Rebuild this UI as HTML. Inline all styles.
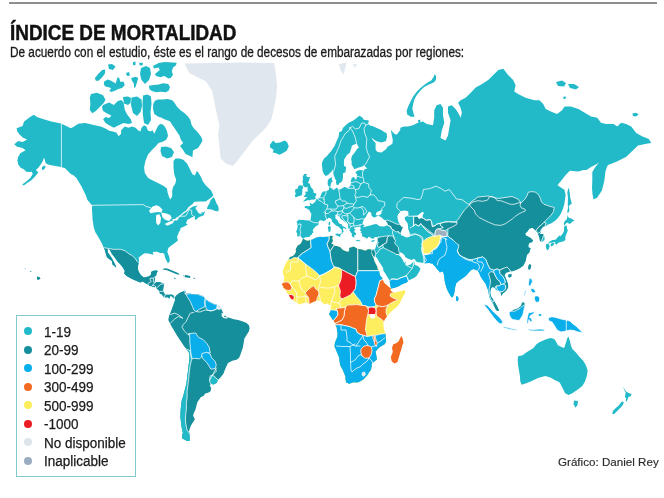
<!DOCTYPE html>
<html><head><meta charset="utf-8"><style>
html,body{margin:0;padding:0;background:#fff;}
.title,.sub,.lt,.credit{filter:grayscale(1);}
body{width:664px;height:498px;position:relative;overflow:hidden;font-family:"Liberation Sans",sans-serif;}
.topline{position:absolute;left:9px;top:2.2px;width:648px;height:1.6px;background:#8f8f8f;}
.title{position:absolute;left:9.9px;top:22.0px;font-size:22px;line-height:1;font-weight:bold;color:#111;-webkit-text-stroke:0.5px #111;transform-origin:0 0;transform:scaleX(0.859);white-space:nowrap;}
.sub{position:absolute;left:9.5px;top:45.3px;font-size:14px;line-height:1;color:#1a1a1a;-webkit-text-stroke:0.3px #1a1a1a;transform-origin:0 0;transform:scaleX(0.842);white-space:nowrap;}
svg{position:absolute;left:0;top:0;}
.legend{position:absolute;left:16.1px;top:315.1px;width:117.8px;height:159.7px;border:1.6px solid #80c9ce;background:#fff;}
.dot{position:absolute;width:8px;height:8px;border-radius:50%;}
.lt{position:absolute;font-size:14px;line-height:1;color:#1a1a1a;-webkit-text-stroke:0.25px #1a1a1a;white-space:nowrap;transform-origin:0 0;transform:scaleX(0.965);}
.credit{position:absolute;left:558.3px;top:456.5px;font-size:11.5px;line-height:1;color:#2b2b2b;-webkit-text-stroke:0.15px #2b2b2b;white-space:nowrap;transform-origin:0 0;transform:scaleX(1.01);}
</style></head><body>
<div class="topline"></div>
<div class="title">ÍNDICE DE MORTALIDAD</div>
<div class="sub">De acuerdo con el estudio, éste es el rango de decesos de embarazadas por regiones:</div>
<svg width="664" height="498" viewBox="0 0 664 498">
<defs>
<clipPath id="cNA"><polygon points="33.9,114.8 36.9,117.0 43.7,119.3 51.2,121.6 58.7,123.1 61.4,123.8 66.3,126.1 70.8,128.3 73.8,126.8 78.3,123.8 85.0,122.9 89.8,124.1 94.6,125.3 100.7,126.6 105.5,128.4 109.1,130.8 112.7,131.4 116.3,132.6 118.7,136.2 121.1,133.8 121.1,130.2 124.8,126.6 128.4,127.8 132.0,126.6 135.6,127.8 138.0,130.2 140.4,131.4 141.6,127.8 144.0,125.3 146.4,126.6 147.7,130.2 150.1,131.4 152.5,130.2 154.3,133.8 156.0,130.0 158.0,126.0 160.0,124.0 163.0,124.5 165.0,127.0 167.0,131.0 168.0,136.0 166.0,140.0 162.0,142.0 158.5,143.0 156.0,146.0 152.0,150.0 148.0,154.6 145.4,161.1 144.1,167.6 144.8,172.9 148.1,178.1 153.3,180.7 158.5,183.3 163.7,185.9 167.0,188.5 167.6,192.4 168.9,196.4 170.2,199.5 172.2,196.4 172.2,191.1 172.9,187.2 175.5,183.3 176.1,179.4 174.2,174.2 173.5,167.6 173.5,161.1 175.5,158.5 179.4,158.5 183.3,159.8 187.2,163.7 189.8,168.9 192.4,174.2 195.0,175.5 196.7,171.0 198.4,172.7 201.0,177.0 202.6,181.0 205.3,184.7 208.0,187.5 211.1,190.5 213.4,195.3 211.4,197.5 210.9,197.8 205.7,201.4 200.0,201.5 194.2,201.7 192.6,204.0 188.3,207.3 185.6,211.2 184.8,212.3 186.5,211.8 189.5,208.7 193.0,206.4 197.8,205.6 195.3,208.0 197.1,210.7 198.5,212.9 201.2,214.3 204.9,210.9 205.0,210.9 203.9,215.3 199.2,217.1 195.5,220.2 194.6,217.5 194.9,215.6 193.1,216.7 190.8,218.0 187.4,219.8 186.0,223.2 187.8,224.8 186.0,225.4 184.2,226.6 180.6,227.9 180.1,230.4 179.0,231.8 178.3,234.1 177.0,236.7 177.9,240.6 176.1,242.1 173.5,243.9 170.0,246.4 168.3,248.1 167.3,251.9 168.9,256.0 169.7,259.1 169.6,261.7 167.9,263.2 166.3,260.2 165.0,257.4 164.5,254.5 162.7,252.8 160.9,253.2 156.9,251.7 155.5,251.7 152.8,252.1 153.4,254.8 148.3,253.5 144.9,253.2 143.3,254.1 138.7,257.4 139.1,261.3 138.1,265.5 137.9,269.1 138.7,271.8 141.0,275.3 142.6,276.6 144.0,277.5 146.2,277.0 148.7,276.5 150.7,275.0 151.0,274.0 151.2,272.0 152.5,271.1 155.0,270.6 157.1,270.4 157.7,271.4 156.5,273.3 156.4,275.1 155.0,276.8 155.1,278.8 154.8,280.8 154.4,282.4 156.4,282.1 157.7,282.2 159.1,282.0 164.2,283.8 163.7,285.7 163.1,289.7 163.2,291.8 164.4,293.6 165.8,294.8 170.0,294.8 171.6,294.4 174.7,296.3 174.0,298.4 173.6,299.0 172.9,297.4 170.7,295.6 169.1,298.8 168.0,297.2 164.6,297.4 163.4,296.5 161.2,293.8 160.3,294.0 159.3,292.0 159.3,291.1 156.9,288.7 156.2,287.3 155.9,287.1 154.6,287.3 152.2,286.5 150.1,285.9 148.0,284.7 142.6,281.4 140.3,282.4 134.2,280.1 130.1,277.9 126.3,275.7 123.8,272.9 124.6,272.5 124.7,270.7 122.5,267.1 119.8,263.8 117.9,262.1 114.5,257.2 111.8,253.7 109.8,249.7 107.5,248.6 107.8,252.6 111.1,256.9 112.0,258.5 115.5,265.2 116.3,267.8 112.3,264.2 112.0,261.2 106.9,257.3 105.7,253.0 104.3,248.4 103.4,247.0 101.8,243.3 98.0,236.5 95.2,232.0 93.8,227.6 92.6,220.1 92.2,213.0 91.9,208.7 92.2,205.5 90.4,203.5 87.3,199.7 85.8,195.2 83.6,190.7 81.3,186.1 79.1,182.4 76.8,178.6 73.8,175.6 70.8,174.1 67.8,171.1 64.8,168.1 61.7,167.3 58.7,166.6 55.2,166.1 51.2,165.3 48.0,164.5 45.5,162.9 44.5,158.5 43.9,158.0 42.7,161.3 40.7,164.5 38.3,167.7 35.9,170.1 38.3,172.5 35.1,176.5 31.1,180.5 27.1,183.0 23.8,185.4 22.2,184.6 26.3,181.4 30.3,178.1 32.7,174.1 31.9,171.7 29.5,172.1 26.3,171.7 23.8,169.3 20.6,167.7 18.2,164.5 17.4,160.5 18.1,157.0 20.3,153.2 25.6,150.2 22.6,147.9 16.6,146.4 14.3,144.2 18.1,141.1 22.6,141.9 27.1,139.6 22.6,137.4 19.6,134.4 17.3,131.4 16.6,128.3 22.6,126.1 24.1,121.6 30.1,117.0"/></clipPath>
<clipPath id="cSA"><polygon points="174.3,298.1 176.6,295.0 179.6,292.8 183.3,291.3 184.8,290.5 186.4,293.6 189.4,293.6 193.1,294.3 197.7,294.3 200.7,295.1 203.7,296.6 205.2,298.8 208.2,301.1 211.2,302.6 214.2,304.1 217.2,304.8 218.7,305.6 221.0,308.6 222.5,311.6 224.0,315.4 226.3,316.9 229.3,317.7 233.8,319.2 238.3,319.9 242.8,321.4 246.6,322.9 248.9,325.2 249.6,328.2 248.9,331.2 246.6,335.0 244.3,338.7 243.6,343.3 242.8,347.8 241.5,351.5 240.3,355.0 239.0,358.0 236.5,359.7 232.3,360.8 228.0,363.0 226.3,366.4 224.8,370.1 223.3,373.9 220.2,377.7 218.0,379.9 216.5,382.9 213.5,384.4 211.2,383.7 209.7,385.2 211.2,388.2 210.5,391.2 208.2,392.7 205.2,393.5 203.7,395.7 200.7,397.2 199.2,399.5 197.5,402.0 196.7,404.8 195.5,409.6 193.7,413.3 193.1,415.7 194.9,419.3 192.5,422.9 190.7,425.9 189.5,429.5 188.9,431.9 190.1,433.7 189.5,441.0 187.1,441.0 182.3,438.6 182.3,434.9 182.9,432.5 181.7,427.7 181.1,422.9 180.5,418.0 180.5,412.0 181.0,406.0 181.8,400.0 183.3,395.7 184.8,389.7 186.4,383.7 187.1,377.7 187.9,371.6 188.6,365.6 189.4,359.6 189.4,353.6 187.1,350.0 184.1,346.3 181.1,341.7 178.1,337.2 175.8,333.5 173.6,329.7 171.3,325.9 169.8,322.9 168.3,319.9 169.0,316.1 170.5,312.4 172.0,308.6 173.6,304.1 175.1,299.6"/></clipPath>
<clipPath id="cEU"><polygon points="325.8,175.9 324.0,174.2 323.2,172.4 322.6,170.7 322.2,166.9 321.8,164.5 322.2,162.1 324.0,158.6 325.6,157.2 327.0,155.9 329.0,153.4 331.1,151.2 332.9,148.5 334.9,145.6 335.8,143.0 338.6,136.8 339.2,132.2 341.9,131.1 342.8,128.0 346.5,124.5 349.0,122.5 352.6,121.1 355.7,118.8 359.4,115.8 362.5,117.4 363.7,119.7 368.9,120.4 368.0,124.0 370.5,125.8 372.3,126.1 376.8,128.0 381.3,130.1 384.5,132.2 386.6,132.9 387.0,136.7 386.0,141.1 381.3,142.5 375.9,141.1 371.3,137.5 373.2,140.6 375.6,143.0 375.6,149.6 377.4,152.1 381.5,152.5 384.9,149.9 385.8,149.6 387.6,146.7 392.4,143.7 392.8,140.1 391.7,134.7 390.8,129.8 394.2,133.7 396.7,134.7 400.3,130.0 400.3,127.8 404.1,126.6 407.8,126.6 412.9,125.3 417.9,122.8 422.9,121.6 426.7,124.1 433.0,125.3 434.2,117.8 434.2,110.3 436.7,105.2 440.5,104.0 443.0,107.7 443.0,115.3 444.3,122.8 441.8,130.4 440.5,137.9 445.5,140.4 448.0,135.4 449.3,127.8 450.6,120.3 448.0,112.8 448.0,106.5 451.8,105.2 455.6,109.0 458.1,112.8 460.6,117.8 461.9,112.8 460.6,107.7 458.1,102.7 460.6,100.2 465.6,97.7 470.7,92.7 475.7,87.6 482.0,83.9 488.2,80.1 493.3,75.1 498.3,70.1 503.3,68.8 508.1,75.1 513.1,80.1 515.6,85.1 514.3,91.4 518.1,93.9 525.6,97.7 534.4,100.2 539.5,100.2 543.2,104.0 545.7,109.0 550.8,111.5 557.0,114.0 562.1,110.3 564.6,106.5 570.9,106.5 578.4,109.0 584.7,112.8 591.0,116.5 597.2,117.8 601.0,122.8 606.0,124.1 613.6,124.1 617.3,126.6 621.1,122.8 626.1,124.1 631.2,126.6 636.2,132.9 642.5,136.6 648.8,139.1 651.3,142.9 647.7,143.5 638.0,145.5 633.3,150.0 626.0,157.0 616.4,161.7 608.0,165.0 606.5,168.0 605.5,171.3 604.3,181.0 601.9,190.6 597.1,197.8 593.5,199.5 592.5,194.0 592.0,188.0 592.3,181.0 592.3,172.0 595.0,167.5 599.0,162.5 603.0,158.3 600.5,161.5 596.0,164.5 591.0,167.0 586.5,170.0 583.4,170.1 578.4,171.4 569.8,170.8 565.0,175.8 560.8,181.3 557.5,185.0 560.8,187.4 564.4,189.8 565.6,194.6 565.0,199.5 564.1,205.0 562.1,211.0 560.1,215.0 557.1,219.0 554.1,221.5 551.0,223.6 548.0,224.6 546.0,226.1 543.0,226.8 541.5,229.0 540.5,232.0 540.0,234.1 543.0,234.1 544.5,237.1 544.5,240.1 542.0,242.1 540.0,241.1 539.5,238.1 538.5,235.0 537.5,232.5 535.5,230.2 532.5,227.8 529.5,228.4 527.0,232.0 525.2,233.2 525.8,235.6 528.3,236.8 530.7,238.0 533.1,240.4 531.9,242.2 529.5,242.8 528.3,245.0 528.5,247.6 530.6,248.0 529.3,252.6 526.8,255.0 525.6,261.0 523.2,265.8 519.6,268.3 516.0,270.1 512.3,271.3 508.7,271.9 506.3,272.5 505.7,273.1 504.5,275.5 505.7,277.9 506.9,280.9 508.1,284.5 508.1,287.5 506.3,290.5 504.5,292.3 502.7,293.6 501.5,296.0 500.9,293.6 500.3,291.7 498.5,291.1 496.1,289.9 494.3,287.5 492.5,286.9 490.7,288.7 490.1,292.3 490.7,296.0 492.5,298.4 494.3,301.4 496.1,304.4 497.9,308.0 499.1,310.4 497.3,311.0 495.5,309.2 493.7,305.6 491.9,302.6 490.1,299.0 488.9,294.8 488.3,290.5 487.0,287.5 485.8,283.9 484.0,281.5 482.2,279.1 480.4,276.1 479.2,273.1 477.8,270.7 476.0,270.1 473.6,268.9 471.2,270.1 468.8,272.5 465.8,276.1 462.2,278.6 458.6,281.0 456.1,283.4 454.9,288.2 454.3,293.0 453.1,296.6 451.9,297.6 450.7,296.0 448.9,293.0 447.1,289.4 445.9,285.8 444.7,281.0 444.1,276.1 443.5,273.1 442.3,271.3 439.9,272.5 438.7,270.7 436.9,268.9 435.7,267.1 433.3,264.7 433.1,263.7 429.0,262.9 424.8,263.2 421.8,262.7 416.8,262.0 414.1,258.8 411.6,260.1 408.2,258.7 405.5,257.3 404.3,254.9 401.9,252.8 400.3,252.7 399.1,253.9 400.1,256.1 402.2,259.1 403.0,260.3 403.9,262.5 404.6,263.4 405.0,260.9 405.7,262.7 405.3,264.2 407.3,265.5 410.7,264.5 412.3,262.8 413.5,261.7 414.3,260.4 414.2,262.3 414.9,264.7 418.2,266.3 420.4,268.6 419.6,270.9 418.6,272.7 416.8,275.8 414.4,277.8 410.1,279.8 408.4,280.6 406.7,282.6 403.7,283.4 401.2,284.7 399.2,285.9 396.9,286.9 393.8,288.1 391.1,288.4 390.7,287.1 390.2,284.2 389.4,280.0 387.7,277.4 385.3,273.4 383.4,270.7 383.1,268.0 381.4,265.3 380.0,263.3 378.5,260.7 377.2,258.3 375.6,256.7 375.9,253.7 375.0,255.9 374.6,257.5 372.7,255.6 371.5,252.7 371.1,249.7 374.9,249.2 375.5,247.9 375.9,246.3 376.8,243.8 377.4,242.5 377.4,240.0 377.5,238.4 378.0,237.4 376.8,237.1 375.2,237.0 373.6,238.4 372.0,238.7 370.5,237.6 368.2,236.8 367.7,238.2 366.2,238.4 365.3,237.4 363.8,237.0 362.3,236.5 362.0,234.4 361.8,233.1 360.3,233.3 361.4,231.6 360.0,230.4 360.5,228.8 361.0,228.1 359.6,227.0 356.9,226.8 355.8,227.6 354.3,227.6 353.7,228.6 355.7,229.3 354.3,230.8 354.4,231.9 356.2,233.3 355.6,234.2 356.2,234.9 354.7,235.2 354.1,235.2 354.3,236.7 354.8,237.8 353.6,237.1 353.5,237.9 352.8,236.5 352.1,237.0 351.7,235.0 352.1,233.5 351.2,233.1 350.4,231.8 349.5,230.4 349.0,229.1 348.1,228.0 348.1,225.9 348.0,224.5 347.4,223.8 346.7,223.0 345.6,222.4 342.7,220.2 341.7,219.6 340.5,218.6 339.9,217.2 339.1,215.3 338.1,216.7 337.5,214.8 337.8,214.4 337.4,214.0 335.3,214.9 335.2,215.6 335.6,216.3 335.2,217.8 335.8,218.7 337.4,219.9 338.1,221.6 338.7,222.9 340.1,224.1 342.2,224.3 341.7,225.1 342.4,225.9 343.5,226.4 345.4,227.5 346.4,228.8 346.1,229.6 345.4,229.0 344.0,228.0 343.3,228.3 342.9,229.4 342.8,229.8 343.9,231.4 342.9,232.0 342.0,234.3 341.2,233.8 341.3,233.5 342.1,232.4 341.7,232.4 341.9,230.9 341.5,229.6 341.2,229.0 340.6,229.1 339.6,227.5 339.4,227.6 338.7,227.0 337.5,226.1 336.9,225.9 335.8,225.5 335.2,224.7 334.3,223.8 333.3,222.9 332.0,221.6 331.7,220.0 331.6,219.2 330.8,218.6 329.1,217.8 328.3,218.0 327.5,219.1 326.2,219.6 325.7,220.0 323.8,221.2 322.8,220.7 321.8,220.4 321.1,220.3 319.8,220.4 318.8,221.1 318.7,222.3 319.1,223.3 318.2,224.8 317.1,225.7 315.4,226.4 314.7,227.4 313.2,229.3 312.7,230.5 313.6,232.2 312.3,233.2 311.9,234.2 311.4,235.0 310.3,235.5 309.3,237.2 308.8,236.8 306.9,237.2 305.3,237.2 304.4,237.7 303.6,238.6 303.2,238.9 301.9,237.7 301.6,237.1 300.7,236.0 299.0,236.5 297.9,236.2 297.1,236.5 297.3,234.2 297.3,232.9 296.5,232.4 296.2,232.1 296.4,230.8 296.9,230.1 297.5,227.5 297.7,226.2 297.3,224.8 297.4,223.6 296.5,221.7 298.1,220.6 299.0,219.5 300.6,220.0 303.0,220.0 306.4,220.3 307.8,220.6 309.6,220.6 310.4,220.2 311.0,217.1 311.3,214.5 311.1,213.0 310.0,212.0 309.3,209.8 307.6,209.2 307.1,208.5 304.7,207.7 304.6,206.7 306.0,205.8 308.3,206.2 309.6,205.9 310.4,205.8 310.3,205.4 309.7,202.8 310.3,203.0 310.9,203.0 311.0,203.8 312.6,204.0 313.4,203.5 313.8,202.7 315.2,202.1 316.1,199.7 316.5,199.1 317.4,198.8 318.4,198.4 319.7,197.4 320.8,195.6 321.7,192.9 323.1,191.6 325.4,191.3 326.1,191.6 327.4,190.5 328.8,190.0 329.1,187.9 328.5,185.9 327.7,184.6 327.7,181.1 328.6,179.0 332.2,176.9 332.1,177.8 331.7,179.2 332.7,181.5 331.5,182.3 330.7,184.4 330.8,186.6 330.1,186.9 331.4,188.4 332.9,188.6 332.6,189.7 333.7,189.9 334.9,188.9 337.2,187.6 337.9,188.9 338.6,189.5 338.7,189.9 341.1,188.9 343.4,187.6 344.6,187.1 346.9,187.6 346.6,188.4 348.9,187.4 349.9,186.4 351.0,183.9 350.8,181.1 351.8,178.0 353.7,176.7 355.5,179.6 356.4,179.4 357.1,174.4 355.3,172.5 357.6,170.5 360.7,170.1 363.4,170.5 365.2,169.0 367.3,168.6 366.1,167.6 364.6,165.7 361.4,166.7 358.0,167.8 354.4,169.2 353.0,166.7 351.5,164.5 351.7,162.5 351.2,158.9 351.9,155.9 354.6,152.7 357.1,149.0 358.8,147.6 357.2,144.2 356.5,143.7 352.9,144.9 351.7,146.3 351.2,148.7 349.6,152.9 346.8,155.1 345.4,157.8 344.3,158.9 343.9,161.7 344.0,165.7 346.2,167.2 345.6,170.9 345.5,172.2 343.7,173.1 342.9,173.6 343.0,176.7 342.5,180.6 341.2,182.3 339.5,182.9 338.8,184.4 337.9,184.9 336.8,185.1 336.5,184.2 336.0,182.7 336.2,180.6 335.2,179.0 334.5,176.9 333.6,174.7 333.2,172.4 332.8,171.4 332.4,168.8 331.6,171.8 331.1,172.0 330.0,172.7 329.0,174.2 327.5,175.3"/></clipPath>
<clipPath id="cAF"><polygon points="302.8,239.3 303.7,239.1 306.2,240.6 308.0,240.7 312.0,239.6 313.4,239.1 315.5,237.7 318.7,237.0 320.2,236.7 322.3,237.1 323.5,237.0 325.6,236.7 327.1,236.7 328.9,236.6 330.9,235.8 333.0,236.3 332.2,237.9 332.3,239.3 333.1,240.0 332.5,241.8 331.3,243.8 332.7,244.0 334.9,246.1 336.9,246.1 340.3,247.2 342.9,249.9 346.4,251.5 348.3,251.7 349.2,250.3 349.1,247.9 353.7,246.4 356.2,247.9 358.3,249.1 362.0,249.6 365.1,250.7 366.8,249.9 367.7,249.3 370.2,249.2 371.1,249.7 371.5,252.7 371.8,254.8 373.8,258.6 374.0,259.6 374.7,261.0 375.7,263.3 377.4,265.7 378.8,269.2 379.9,274.5 380.1,275.6 382.2,277.8 383.9,282.6 386.0,284.4 389.8,287.7 390.8,288.5 390.5,290.4 391.1,290.9 393.8,292.7 398.3,291.8 401.4,291.0 405.1,290.0 405.3,292.7 402.5,297.5 400.1,302.5 397.8,306.1 394.5,308.9 393.4,309.5 389.4,313.5 386.5,317.1 385.1,318.9 384.3,320.6 383.3,322.6 383.6,325.8 384.0,329.9 385.2,332.6 385.7,333.4 385.8,337.8 386.1,341.8 384.7,344.2 379.3,347.6 375.7,351.5 376.1,353.9 376.8,357.0 376.9,359.8 373.5,362.3 371.6,364.3 372.2,366.3 370.6,370.4 368.8,372.7 367.8,374.7 363.2,379.8 359.1,381.9 357.6,382.5 352.9,382.5 349.0,384.0 347.7,383.0 346.3,382.9 346.2,381.8 345.4,379.8 345.3,376.4 342.7,370.0 340.3,365.7 339.4,361.2 339.2,357.9 338.2,355.6 335.8,349.8 334.3,346.3 335.0,342.2 337.2,337.1 337.4,333.0 336.9,329.7 336.7,327.9 335.3,324.5 334.4,322.0 332.3,319.3 328.8,313.9 330.1,312.0 330.7,309.3 330.9,307.2 330.6,305.0 329.7,305.1 328.4,304.2 328.1,303.3 324.1,304.6 322.2,302.3 319.3,300.4 317.5,300.6 315.4,301.0 312.8,302.2 309.4,303.7 306.0,302.6 301.3,303.7 299.4,304.4 293.8,300.7 290.8,298.4 289.5,296.5 288.6,294.5 286.3,292.0 285.2,290.0 283.1,288.7 283.5,286.8 281.9,284.4 283.6,281.8 284.4,277.6 282.6,272.1 284.6,266.1 287.2,261.0 290.1,257.1 293.0,256.0 294.9,253.9 296.0,251.7 295.7,249.2 296.6,247.4 298.0,245.3 299.6,244.5 300.9,243.5 302.2,240.7"/></clipPath>
</defs>
<polygon points="33.9,114.8 36.9,117.0 43.7,119.3 51.2,121.6 58.7,123.1 61.4,123.8 66.3,126.1 70.8,128.3 73.8,126.8 78.3,123.8 85.0,122.9 89.8,124.1 94.6,125.3 100.7,126.6 105.5,128.4 109.1,130.8 112.7,131.4 116.3,132.6 118.7,136.2 121.1,133.8 121.1,130.2 124.8,126.6 128.4,127.8 132.0,126.6 135.6,127.8 138.0,130.2 140.4,131.4 141.6,127.8 144.0,125.3 146.4,126.6 147.7,130.2 150.1,131.4 152.5,130.2 154.3,133.8 156.0,130.0 158.0,126.0 160.0,124.0 163.0,124.5 165.0,127.0 167.0,131.0 168.0,136.0 166.0,140.0 162.0,142.0 158.5,143.0 156.0,146.0 152.0,150.0 148.0,154.6 145.4,161.1 144.1,167.6 144.8,172.9 148.1,178.1 153.3,180.7 158.5,183.3 163.7,185.9 167.0,188.5 167.6,192.4 168.9,196.4 170.2,199.5 172.2,196.4 172.2,191.1 172.9,187.2 175.5,183.3 176.1,179.4 174.2,174.2 173.5,167.6 173.5,161.1 175.5,158.5 179.4,158.5 183.3,159.8 187.2,163.7 189.8,168.9 192.4,174.2 195.0,175.5 196.7,171.0 198.4,172.7 201.0,177.0 202.6,181.0 205.3,184.7 208.0,187.5 211.1,190.5 213.4,195.3 211.4,197.5 210.9,197.8 205.7,201.4 200.0,201.5 194.2,201.7 192.6,204.0 188.3,207.3 185.6,211.2 184.8,212.3 186.5,211.8 189.5,208.7 193.0,206.4 197.8,205.6 195.3,208.0 197.1,210.7 198.5,212.9 201.2,214.3 204.9,210.9 205.0,210.9 203.9,215.3 199.2,217.1 195.5,220.2 194.6,217.5 194.9,215.6 193.1,216.7 190.8,218.0 187.4,219.8 186.0,223.2 187.8,224.8 186.0,225.4 184.2,226.6 180.6,227.9 180.1,230.4 179.0,231.8 178.3,234.1 177.0,236.7 177.9,240.6 176.1,242.1 173.5,243.9 170.0,246.4 168.3,248.1 167.3,251.9 168.9,256.0 169.7,259.1 169.6,261.7 167.9,263.2 166.3,260.2 165.0,257.4 164.5,254.5 162.7,252.8 160.9,253.2 156.9,251.7 155.5,251.7 152.8,252.1 153.4,254.8 148.3,253.5 144.9,253.2 143.3,254.1 138.7,257.4 139.1,261.3 138.1,265.5 137.9,269.1 138.7,271.8 141.0,275.3 142.6,276.6 144.0,277.5 146.2,277.0 148.7,276.5 150.7,275.0 151.0,274.0 151.2,272.0 152.5,271.1 155.0,270.6 157.1,270.4 157.7,271.4 156.5,273.3 156.4,275.1 155.0,276.8 155.1,278.8 154.8,280.8 154.4,282.4 156.4,282.1 157.7,282.2 159.1,282.0 164.2,283.8 163.7,285.7 163.1,289.7 163.2,291.8 164.4,293.6 165.8,294.8 170.0,294.8 171.6,294.4 174.7,296.3 174.0,298.4 173.6,299.0 172.9,297.4 170.7,295.6 169.1,298.8 168.0,297.2 164.6,297.4 163.4,296.5 161.2,293.8 160.3,294.0 159.3,292.0 159.3,291.1 156.9,288.7 156.2,287.3 155.9,287.1 154.6,287.3 152.2,286.5 150.1,285.9 148.0,284.7 142.6,281.4 140.3,282.4 134.2,280.1 130.1,277.9 126.3,275.7 123.8,272.9 124.6,272.5 124.7,270.7 122.5,267.1 119.8,263.8 117.9,262.1 114.5,257.2 111.8,253.7 109.8,249.7 107.5,248.6 107.8,252.6 111.1,256.9 112.0,258.5 115.5,265.2 116.3,267.8 112.3,264.2 112.0,261.2 106.9,257.3 105.7,253.0 104.3,248.4 103.4,247.0 101.8,243.3 98.0,236.5 95.2,232.0 93.8,227.6 92.6,220.1 92.2,213.0 91.9,208.7 92.2,205.5 90.4,203.5 87.3,199.7 85.8,195.2 83.6,190.7 81.3,186.1 79.1,182.4 76.8,178.6 73.8,175.6 70.8,174.1 67.8,171.1 64.8,168.1 61.7,167.3 58.7,166.6 55.2,166.1 51.2,165.3 48.0,164.5 45.5,162.9 44.5,158.5 43.9,158.0 42.7,161.3 40.7,164.5 38.3,167.7 35.9,170.1 38.3,172.5 35.1,176.5 31.1,180.5 27.1,183.0 23.8,185.4 22.2,184.6 26.3,181.4 30.3,178.1 32.7,174.1 31.9,171.7 29.5,172.1 26.3,171.7 23.8,169.3 20.6,167.7 18.2,164.5 17.4,160.5 18.1,157.0 20.3,153.2 25.6,150.2 22.6,147.9 16.6,146.4 14.3,144.2 18.1,141.1 22.6,141.9 27.1,139.6 22.6,137.4 19.6,134.4 17.3,131.4 16.6,128.3 22.6,126.1 24.1,121.6 30.1,117.0" fill="#22bac8"/>
<polygon points="94.9,78.1 98.6,73.6 102.2,69.9 105.3,69.5 104.9,73.6 102.2,77.2 98.6,80.8 95.8,80.8" fill="#22bac8"/>
<polygon points="104.0,81.7 107.6,79.4 111.2,80.8 115.7,83.5 117.5,77.2 119.3,78.1 120.2,81.7 123.8,81.7 124.7,85.3 122.0,88.0 118.4,88.9 114.8,90.7 111.2,92.1 109.4,90.7 111.2,88.0 107.6,87.1 104.9,86.2 104.0,84.4" fill="#22bac8"/>
<polygon points="108.0,64.5 112.0,64.0 115.5,66.5 113.0,70.0 109.0,69.0" fill="#22bac8"/>
<polygon points="132.9,62.0 135.6,61.8 135.5,65.0 133.0,65.2" fill="#22bac8"/>
<polygon points="139.2,62.7 142.8,62.7 142.5,65.4 139.5,65.2" fill="#22bac8"/>
<polygon points="126.0,73.0 129.0,72.0 130.0,75.5 127.0,76.0" fill="#22bac8"/>
<polygon points="131.1,78.1 135.6,76.7 138.3,78.1 136.9,82.6 135.6,87.1 134.2,88.0 133.8,83.5 132.0,80.8" fill="#22bac8"/>
<polygon points="141.0,68.0 146.0,66.0 150.0,68.0 151.0,74.0 149.0,80.0 145.0,84.0 141.5,80.0 140.0,74.0" fill="#22bac8"/>
<polygon points="153.0,66.0 158.6,63.0 165.0,62.0 176.6,62.8 176.0,65.2 173.0,67.6 171.8,71.3 173.0,74.9 170.6,77.9 168.2,78.5 165.8,76.7 163.4,76.1 161.0,77.3 158.6,76.7 156.1,76.1 154.9,74.3 157.3,71.9 159.8,70.0 158.6,67.6 154.0,68.5" fill="#22bac8"/>
<polygon points="148.9,85.7 153.7,85.1 158.6,84.5 163.4,83.3 168.2,83.9 170.0,86.9 168.8,90.5 165.8,92.3 161.0,91.7 156.1,92.3 151.9,91.1 149.5,89.3" fill="#22bac8"/>
<polygon points="91.0,94.0 97.0,92.8 103.1,95.2 105.5,100.0 103.1,103.7 99.5,107.3 95.8,110.9 92.2,113.3 89.8,109.7 90.4,103.7 89.8,97.6" fill="#22bac8"/>
<polygon points="103.1,104.9 109.1,102.5 113.9,104.9 117.5,101.3 121.1,100.0 123.6,102.5 124.8,109.7 127.2,114.5 130.8,119.3 132.0,122.9 128.4,124.1 123.6,122.9 118.7,125.3 113.9,127.8 109.1,125.3 105.5,122.9 103.1,119.3 105.5,116.9 109.1,118.1 111.5,115.7 106.7,113.3 103.1,110.9 101.9,107.3" fill="#22bac8"/>
<polygon points="123.0,97.0 128.0,96.4 131.0,98.0 130.5,103.0 128.0,104.9 124.0,103.5" fill="#22bac8"/>
<polygon points="131.5,97.5 137.0,96.5 141.5,99.5 142.0,106.0 140.5,112.0 137.0,116.0 133.0,113.0 131.0,105.0" fill="#22bac8"/>
<polygon points="143.0,95.5 147.5,94.5 151.0,96.5 151.5,104.0 150.5,112.0 151.0,120.0 148.0,125.0 144.0,123.0 142.8,114.0 142.5,104.0" fill="#22bac8"/>
<polygon points="154.9,100.8 157.9,99.6 162.7,99.6 167.5,99.0 172.3,100.2 174.8,103.3 177.2,106.9 180.8,110.5 184.4,112.9 188.0,116.5 190.4,120.1 191.6,124.9 194.0,128.6 197.7,132.2 201.3,137.0 202.5,140.6 201.0,143.5 198.0,147.9 193.0,150.5 192.4,157.3 189.0,155.6 185.6,153.9 182.2,148.8 180.0,146.0 183.2,143.0 180.8,139.4 179.6,135.8 177.2,132.2 174.8,128.6 172.3,124.9 169.9,121.3 166.3,120.1 163.9,118.9 161.5,117.7 157.9,116.5 154.3,114.1 153.1,109.3 153.1,104.5" fill="#22bac8"/>
<polygon points="161.0,147.0 166.0,146.5 171.0,148.0 174.0,152.0 172.0,157.0 167.0,158.5 162.0,156.0 160.5,151.0" fill="#22bac8"/>
<polygon points="42.0,167.0 44.5,165.5 45.7,166.8 44.0,169.5 42.0,170.0" fill="#22bac8"/>
<polygon points="213.7,197.1 215.0,199.5 216.4,203.2 218.1,205.9 218.8,209.1 218.1,211.6 216.0,211.0 214.3,210.7 212.0,209.5 206.9,208.9 207.6,206.5 209.3,203.4 210.7,200.1" fill="#22bac8"/>
<polygon points="200.5,212.7 203.0,212.2 202.5,213.4 200.8,213.5" fill="#22bac8"/>
<polygon points="184.4,63.4 189.3,73.1 196.5,76.7 206.1,81.5 212.2,91.1 214.6,103.2 217.0,115.2 219.4,124.8 218.2,134.5 219.4,146.5 220.6,158.6 226.0,163.5 232.6,166.0 237.4,161.0 244.6,151.3 251.8,141.7 259.1,134.5 266.3,127.3 271.1,120.0 273.5,110.4 276.0,98.3 277.1,86.3 276.0,74.3 274.0,63.0 240.0,62.5" fill="#e0e7ef"/>
<polygon points="284.5,140.6 287.0,142.1 288.8,146.3 286.7,150.7 283.1,152.9 279.5,154.7 275.6,152.9 272.5,152.5 273.8,149.9 270.2,147.6 269.8,144.9 272.0,142.1 273.1,140.6 275.6,143.0 280.0,142.5" fill="#22bac8"/>
<polygon points="162.5,269.0 165.0,268.2 168.0,268.8 171.0,270.0 174.0,271.3 177.0,272.5 179.5,274.0 178.8,274.8 176.0,274.0 173.0,272.8 170.0,271.5 167.0,270.2 164.0,269.8" fill="#148f9b"/>
<polygon points="174.0,277.8 175.8,277.9 175.5,278.8 174.0,278.7" fill="#148f9b"/>
<polygon points="193.5,277.8 195.3,277.9 195.1,278.8 193.6,278.7" fill="#148f9b"/>
<polygon points="183.1,275.4 185.4,274.9 188.4,275.4 190.6,276.4 189.9,277.9 186.9,277.6 184.6,277.2" fill="#148f9b"/>
<polygon points="174.3,298.1 176.6,295.0 179.6,292.8 183.3,291.3 184.8,290.5 186.4,293.6 189.4,293.6 193.1,294.3 197.7,294.3 200.7,295.1 203.7,296.6 205.2,298.8 208.2,301.1 211.2,302.6 214.2,304.1 217.2,304.8 218.7,305.6 221.0,308.6 222.5,311.6 224.0,315.4 226.3,316.9 229.3,317.7 233.8,319.2 238.3,319.9 242.8,321.4 246.6,322.9 248.9,325.2 249.6,328.2 248.9,331.2 246.6,335.0 244.3,338.7 243.6,343.3 242.8,347.8 241.5,351.5 240.3,355.0 239.0,358.0 236.5,359.7 232.3,360.8 228.0,363.0 226.3,366.4 224.8,370.1 223.3,373.9 220.2,377.7 218.0,379.9 216.5,382.9 213.5,384.4 211.2,383.7 209.7,385.2 211.2,388.2 210.5,391.2 208.2,392.7 205.2,393.5 203.7,395.7 200.7,397.2 199.2,399.5 197.5,402.0 196.7,404.8 195.5,409.6 193.7,413.3 193.1,415.7 194.9,419.3 192.5,422.9 190.7,425.9 189.5,429.5 188.9,431.9 190.1,433.7 189.5,441.0 187.1,441.0 182.3,438.6 182.3,434.9 182.9,432.5 181.7,427.7 181.1,422.9 180.5,418.0 180.5,412.0 181.0,406.0 181.8,400.0 183.3,395.7 184.8,389.7 186.4,383.7 187.1,377.7 187.9,371.6 188.6,365.6 189.4,359.6 189.4,353.6 187.1,350.0 184.1,346.3 181.1,341.7 178.1,337.2 175.8,333.5 173.6,329.7 171.3,325.9 169.8,322.9 168.3,319.9 169.0,316.1 170.5,312.4 172.0,308.6 173.6,304.1 175.1,299.6" fill="#148f9b"/>
<polygon points="325.8,175.9 324.0,174.2 323.2,172.4 322.6,170.7 322.2,166.9 321.8,164.5 322.2,162.1 324.0,158.6 325.6,157.2 327.0,155.9 329.0,153.4 331.1,151.2 332.9,148.5 334.9,145.6 335.8,143.0 338.6,136.8 339.2,132.2 341.9,131.1 342.8,128.0 346.5,124.5 349.0,122.5 352.6,121.1 355.7,118.8 359.4,115.8 362.5,117.4 363.7,119.7 368.9,120.4 368.0,124.0 370.5,125.8 372.3,126.1 376.8,128.0 381.3,130.1 384.5,132.2 386.6,132.9 387.0,136.7 386.0,141.1 381.3,142.5 375.9,141.1 371.3,137.5 373.2,140.6 375.6,143.0 375.6,149.6 377.4,152.1 381.5,152.5 384.9,149.9 385.8,149.6 387.6,146.7 392.4,143.7 392.8,140.1 391.7,134.7 390.8,129.8 394.2,133.7 396.7,134.7 400.3,130.0 400.3,127.8 404.1,126.6 407.8,126.6 412.9,125.3 417.9,122.8 422.9,121.6 426.7,124.1 433.0,125.3 434.2,117.8 434.2,110.3 436.7,105.2 440.5,104.0 443.0,107.7 443.0,115.3 444.3,122.8 441.8,130.4 440.5,137.9 445.5,140.4 448.0,135.4 449.3,127.8 450.6,120.3 448.0,112.8 448.0,106.5 451.8,105.2 455.6,109.0 458.1,112.8 460.6,117.8 461.9,112.8 460.6,107.7 458.1,102.7 460.6,100.2 465.6,97.7 470.7,92.7 475.7,87.6 482.0,83.9 488.2,80.1 493.3,75.1 498.3,70.1 503.3,68.8 508.1,75.1 513.1,80.1 515.6,85.1 514.3,91.4 518.1,93.9 525.6,97.7 534.4,100.2 539.5,100.2 543.2,104.0 545.7,109.0 550.8,111.5 557.0,114.0 562.1,110.3 564.6,106.5 570.9,106.5 578.4,109.0 584.7,112.8 591.0,116.5 597.2,117.8 601.0,122.8 606.0,124.1 613.6,124.1 617.3,126.6 621.1,122.8 626.1,124.1 631.2,126.6 636.2,132.9 642.5,136.6 648.8,139.1 651.3,142.9 647.7,143.5 638.0,145.5 633.3,150.0 626.0,157.0 616.4,161.7 608.0,165.0 606.5,168.0 605.5,171.3 604.3,181.0 601.9,190.6 597.1,197.8 593.5,199.5 592.5,194.0 592.0,188.0 592.3,181.0 592.3,172.0 595.0,167.5 599.0,162.5 603.0,158.3 600.5,161.5 596.0,164.5 591.0,167.0 586.5,170.0 583.4,170.1 578.4,171.4 569.8,170.8 565.0,175.8 560.8,181.3 557.5,185.0 560.8,187.4 564.4,189.8 565.6,194.6 565.0,199.5 564.1,205.0 562.1,211.0 560.1,215.0 557.1,219.0 554.1,221.5 551.0,223.6 548.0,224.6 546.0,226.1 543.0,226.8 541.5,229.0 540.5,232.0 540.0,234.1 543.0,234.1 544.5,237.1 544.5,240.1 542.0,242.1 540.0,241.1 539.5,238.1 538.5,235.0 537.5,232.5 535.5,230.2 532.5,227.8 529.5,228.4 527.0,232.0 525.2,233.2 525.8,235.6 528.3,236.8 530.7,238.0 533.1,240.4 531.9,242.2 529.5,242.8 528.3,245.0 528.5,247.6 530.6,248.0 529.3,252.6 526.8,255.0 525.6,261.0 523.2,265.8 519.6,268.3 516.0,270.1 512.3,271.3 508.7,271.9 506.3,272.5 505.7,273.1 504.5,275.5 505.7,277.9 506.9,280.9 508.1,284.5 508.1,287.5 506.3,290.5 504.5,292.3 502.7,293.6 501.5,296.0 500.9,293.6 500.3,291.7 498.5,291.1 496.1,289.9 494.3,287.5 492.5,286.9 490.7,288.7 490.1,292.3 490.7,296.0 492.5,298.4 494.3,301.4 496.1,304.4 497.9,308.0 499.1,310.4 497.3,311.0 495.5,309.2 493.7,305.6 491.9,302.6 490.1,299.0 488.9,294.8 488.3,290.5 487.0,287.5 485.8,283.9 484.0,281.5 482.2,279.1 480.4,276.1 479.2,273.1 477.8,270.7 476.0,270.1 473.6,268.9 471.2,270.1 468.8,272.5 465.8,276.1 462.2,278.6 458.6,281.0 456.1,283.4 454.9,288.2 454.3,293.0 453.1,296.6 451.9,297.6 450.7,296.0 448.9,293.0 447.1,289.4 445.9,285.8 444.7,281.0 444.1,276.1 443.5,273.1 442.3,271.3 439.9,272.5 438.7,270.7 436.9,268.9 435.7,267.1 433.3,264.7 433.1,263.7 429.0,262.9 424.8,263.2 421.8,262.7 416.8,262.0 414.1,258.8 411.6,260.1 408.2,258.7 405.5,257.3 404.3,254.9 401.9,252.8 400.3,252.7 399.1,253.9 400.1,256.1 402.2,259.1 403.0,260.3 403.9,262.5 404.6,263.4 405.0,260.9 405.7,262.7 405.3,264.2 407.3,265.5 410.7,264.5 412.3,262.8 413.5,261.7 414.3,260.4 414.2,262.3 414.9,264.7 418.2,266.3 420.4,268.6 419.6,270.9 418.6,272.7 416.8,275.8 414.4,277.8 410.1,279.8 408.4,280.6 406.7,282.6 403.7,283.4 401.2,284.7 399.2,285.9 396.9,286.9 393.8,288.1 391.1,288.4 390.7,287.1 390.2,284.2 389.4,280.0 387.7,277.4 385.3,273.4 383.4,270.7 383.1,268.0 381.4,265.3 380.0,263.3 378.5,260.7 377.2,258.3 375.6,256.7 375.9,253.7 375.0,255.9 374.6,257.5 372.7,255.6 371.5,252.7 371.1,249.7 374.9,249.2 375.5,247.9 375.9,246.3 376.8,243.8 377.4,242.5 377.4,240.0 377.5,238.4 378.0,237.4 376.8,237.1 375.2,237.0 373.6,238.4 372.0,238.7 370.5,237.6 368.2,236.8 367.7,238.2 366.2,238.4 365.3,237.4 363.8,237.0 362.3,236.5 362.0,234.4 361.8,233.1 360.3,233.3 361.4,231.6 360.0,230.4 360.5,228.8 361.0,228.1 359.6,227.0 356.9,226.8 355.8,227.6 354.3,227.6 353.7,228.6 355.7,229.3 354.3,230.8 354.4,231.9 356.2,233.3 355.6,234.2 356.2,234.9 354.7,235.2 354.1,235.2 354.3,236.7 354.8,237.8 353.6,237.1 353.5,237.9 352.8,236.5 352.1,237.0 351.7,235.0 352.1,233.5 351.2,233.1 350.4,231.8 349.5,230.4 349.0,229.1 348.1,228.0 348.1,225.9 348.0,224.5 347.4,223.8 346.7,223.0 345.6,222.4 342.7,220.2 341.7,219.6 340.5,218.6 339.9,217.2 339.1,215.3 338.1,216.7 337.5,214.8 337.8,214.4 337.4,214.0 335.3,214.9 335.2,215.6 335.6,216.3 335.2,217.8 335.8,218.7 337.4,219.9 338.1,221.6 338.7,222.9 340.1,224.1 342.2,224.3 341.7,225.1 342.4,225.9 343.5,226.4 345.4,227.5 346.4,228.8 346.1,229.6 345.4,229.0 344.0,228.0 343.3,228.3 342.9,229.4 342.8,229.8 343.9,231.4 342.9,232.0 342.0,234.3 341.2,233.8 341.3,233.5 342.1,232.4 341.7,232.4 341.9,230.9 341.5,229.6 341.2,229.0 340.6,229.1 339.6,227.5 339.4,227.6 338.7,227.0 337.5,226.1 336.9,225.9 335.8,225.5 335.2,224.7 334.3,223.8 333.3,222.9 332.0,221.6 331.7,220.0 331.6,219.2 330.8,218.6 329.1,217.8 328.3,218.0 327.5,219.1 326.2,219.6 325.7,220.0 323.8,221.2 322.8,220.7 321.8,220.4 321.1,220.3 319.8,220.4 318.8,221.1 318.7,222.3 319.1,223.3 318.2,224.8 317.1,225.7 315.4,226.4 314.7,227.4 313.2,229.3 312.7,230.5 313.6,232.2 312.3,233.2 311.9,234.2 311.4,235.0 310.3,235.5 309.3,237.2 308.8,236.8 306.9,237.2 305.3,237.2 304.4,237.7 303.6,238.6 303.2,238.9 301.9,237.7 301.6,237.1 300.7,236.0 299.0,236.5 297.9,236.2 297.1,236.5 297.3,234.2 297.3,232.9 296.5,232.4 296.2,232.1 296.4,230.8 296.9,230.1 297.5,227.5 297.7,226.2 297.3,224.8 297.4,223.6 296.5,221.7 298.1,220.6 299.0,219.5 300.6,220.0 303.0,220.0 306.4,220.3 307.8,220.6 309.6,220.6 310.4,220.2 311.0,217.1 311.3,214.5 311.1,213.0 310.0,212.0 309.3,209.8 307.6,209.2 307.1,208.5 304.7,207.7 304.6,206.7 306.0,205.8 308.3,206.2 309.6,205.9 310.4,205.8 310.3,205.4 309.7,202.8 310.3,203.0 310.9,203.0 311.0,203.8 312.6,204.0 313.4,203.5 313.8,202.7 315.2,202.1 316.1,199.7 316.5,199.1 317.4,198.8 318.4,198.4 319.7,197.4 320.8,195.6 321.7,192.9 323.1,191.6 325.4,191.3 326.1,191.6 327.4,190.5 328.8,190.0 329.1,187.9 328.5,185.9 327.7,184.6 327.7,181.1 328.6,179.0 332.2,176.9 332.1,177.8 331.7,179.2 332.7,181.5 331.5,182.3 330.7,184.4 330.8,186.6 330.1,186.9 331.4,188.4 332.9,188.6 332.6,189.7 333.7,189.9 334.9,188.9 337.2,187.6 337.9,188.9 338.6,189.5 338.7,189.9 341.1,188.9 343.4,187.6 344.6,187.1 346.9,187.6 346.6,188.4 348.9,187.4 349.9,186.4 351.0,183.9 350.8,181.1 351.8,178.0 353.7,176.7 355.5,179.6 356.4,179.4 357.1,174.4 355.3,172.5 357.6,170.5 360.7,170.1 363.4,170.5 365.2,169.0 367.3,168.6 366.1,167.6 364.6,165.7 361.4,166.7 358.0,167.8 354.4,169.2 353.0,166.7 351.5,164.5 351.7,162.5 351.2,158.9 351.9,155.9 354.6,152.7 357.1,149.0 358.8,147.6 357.2,144.2 356.5,143.7 352.9,144.9 351.7,146.3 351.2,148.7 349.6,152.9 346.8,155.1 345.4,157.8 344.3,158.9 343.9,161.7 344.0,165.7 346.2,167.2 345.6,170.9 345.5,172.2 343.7,173.1 342.9,173.6 343.0,176.7 342.5,180.6 341.2,182.3 339.5,182.9 338.8,184.4 337.9,184.9 336.8,185.1 336.5,184.2 336.0,182.7 336.2,180.6 335.2,179.0 334.5,176.9 333.6,174.7 333.2,172.4 332.8,171.4 332.4,168.8 331.6,171.8 331.1,172.0 330.0,172.7 329.0,174.2 327.5,175.3" fill="#22bac8"/>
<polygon points="307.8,173.6 304.2,174.0 302.8,176.5 303.0,179.4 302.4,181.8 303.2,183.9 302.8,185.2 304.1,186.7 306.0,187.6 307.5,186.6 307.6,189.5 307.8,191.5 305.0,191.8 305.9,194.0 304.1,195.9 304.1,197.1 306.0,197.1 307.5,197.7 305.7,198.4 304.2,200.2 303.0,201.8 305.7,201.1 307.1,200.2 309.6,200.2 311.8,199.6 313.7,199.7 315.7,198.7 315.7,197.7 314.8,196.8 316.1,195.9 316.3,194.0 315.0,192.9 313.7,193.1 313.6,191.2 312.8,189.2 311.2,187.6 310.6,186.2 309.6,183.5 307.8,182.9 308.5,181.8 309.4,179.4 310.0,176.9 307.3,177.1 306.0,175.8 307.6,173.5" fill="#22bac8"/>
<polygon points="300.1,185.2 302.3,185.6 303.3,187.6 302.3,189.5 302.3,191.8 301.8,195.3 298.5,196.2 295.6,197.4 294.7,195.6 295.8,194.0 295.1,191.8 295.3,189.2 297.8,188.6 298.3,185.9" fill="#22bac8"/>
<polygon points="341.2,233.5 340.3,235.4 340.3,237.3 338.6,236.2 335.5,235.0 335.6,233.8 337.2,233.6 339.0,234.0" fill="#22bac8"/>
<polygon points="329.7,226.0 330.7,226.8 330.7,228.9 330.4,231.4 328.6,231.9 328.3,229.4 327.8,227.6 327.9,226.8" fill="#22bac8"/>
<polygon points="330.0,221.5 330.3,224.1 329.7,225.6 328.6,224.2 328.6,222.5" fill="#22bac8"/>
<polygon points="355.4,240.4 356.6,239.9 359.1,240.3 360.3,240.6 360.2,241.2 357.6,241.2 355.5,240.6" fill="#22bac8"/>
<polygon points="371.1,240.7 373.2,240.3 375.1,239.7 374.1,241.2 372.3,242.1 371.3,241.4" fill="#22bac8"/>
<polygon points="567.5,214.8 568.6,217.8 571.8,218.8 574.5,220.7 572.7,221.5 569.8,224.1 566.9,222.5 564.3,225.6 563.7,223.6 564.8,221.0 566.6,219.4 567.3,217.2" fill="#22bac8"/>
<polygon points="565.7,225.4 566.7,225.6 566.9,227.9 567.8,230.4 566.8,233.3 565.9,235.3 565.2,237.7 565.6,239.6 563.9,241.2 560.9,242.1 558.7,242.4 556.5,244.8 554.8,243.3 555.5,242.1 552.4,242.6 550.5,242.8 547.8,243.7 548.7,242.6 549.9,241.4 552.4,240.0 555.5,239.8 558.2,236.7 559.2,235.3 560.1,236.5 562.3,234.3 563.9,231.6 564.1,228.6 564.1,227.1 564.6,226.0" fill="#22bac8"/>
<polygon points="547.8,243.7 549.2,244.5 549.6,246.3 548.6,249.5 547.4,250.3 546.5,249.2 545.8,246.5 545.8,244.7 546.9,243.8" fill="#22bac8"/>
<polygon points="551.5,242.8 554.4,243.3 553.7,245.1 551.4,246.4 550.3,244.7 551.4,243.8" fill="#22bac8"/>
<polygon points="568.9,188.2 569.6,192.1 570.2,197.4 571.8,203.5 568.7,206.1 569.5,210.6 567.8,213.4 567.3,211.5 568.0,207.8 567.8,203.5 568.0,197.4 567.3,192.8 568.2,188.6" fill="#22bac8"/>
<polygon points="434.9,74.0 436.1,76.4 436.0,79.5 434.9,81.5 432.5,83.1 428.9,84.6 424.1,87.0 420.5,90.5 417.0,94.7 414.5,98.9 413.3,103.6 412.3,108.4 413.5,113.2 414.5,116.8 410.8,116.8 407.2,114.4 406.6,110.8 408.4,106.0 410.8,101.1 413.3,96.3 416.9,91.5 420.5,87.9 424.1,84.9 427.7,82.5 431.3,80.5 433.5,77.0" fill="#22bac8"/>
<polygon points="418.0,120.0 420.5,119.8 420.0,122.8 418.3,122.5" fill="#22bac8"/>
<polygon points="556.0,82.0 562.0,80.5 566.0,83.0 564.0,86.5 558.0,86.0" fill="#22bac8"/>
<polygon points="568.0,84.0 574.0,84.0 579.0,87.0 576.0,89.5 570.0,88.0" fill="#22bac8"/>
<polygon points="632.4,113.5 636.0,112.8 638.7,114.5 636.0,116.5 633.0,116.0" fill="#22bac8"/>
<polygon points="563.5,96.5 566.0,96.8 565.5,99.0 563.3,98.8" fill="#22bac8"/>
<polygon points="456.1,296.0 457.8,296.5 458.9,299.0 457.5,301.5 456.0,300.5" fill="#0aaeea"/>
<polygon points="529.5,264.0 531.3,265.0 530.7,268.5 529.0,270.3 528.0,268.0 528.5,265.5" fill="#148f9b"/>
<polygon points="508.5,274.2 511.5,274.0 511.7,276.5 509.5,277.8 508.0,276.5" fill="#148f9b"/>
<polygon points="518.1,356.2 522.6,355.3 526.2,352.5 530.7,349.8 533.5,348.0 536.2,344.4 538.9,342.6 542.5,340.8 547.0,339.0 550.6,338.1 554.2,339.0 556.1,341.7 557.9,345.3 561.5,347.1 564.2,348.0 566.0,342.6 567.3,338.1 568.4,336.6 569.6,339.9 570.9,345.3 572.3,348.9 575.9,352.5 579.6,357.1 583.2,360.7 585.9,365.2 587.7,370.6 586.8,376.1 585.0,381.5 582.3,386.0 577.8,389.6 572.3,393.2 568.7,395.0 565.1,393.2 563.3,389.6 561.5,386.0 559.7,382.4 557.9,381.5 554.2,379.7 551.5,377.9 548.8,377.0 545.2,376.1 541.6,377.0 538.0,377.9 534.4,379.7 530.7,381.5 526.2,383.3 521.7,384.7 520.3,381.5 519.9,376.1 519.0,370.6 518.1,365.2 517.7,359.8" fill="#22bac8"/>
<polygon points="574.0,400.5 578.0,401.0 577.5,405.0 575.5,407.7 573.5,404.0" fill="#22bac8"/>
<polygon points="623.0,386.7 624.8,389.4 626.6,392.1 629.8,393.5 631.6,393.9 630.7,396.2 628.4,397.1 627.5,399.8 626.6,401.6 625.7,400.7 626.2,398.0 624.8,397.1 625.3,394.8 625.7,392.6 623.9,389.0" fill="#22bac8"/>
<polygon points="622.1,401.2 623.9,402.5 622.1,406.1 619.4,408.8 616.7,411.6 614.0,414.3 612.2,413.4 613.1,410.7 615.8,407.9 618.5,405.7 620.7,403.0" fill="#22bac8"/>
<polygon points="37.0,276.5 39.5,277.0 40.5,278.5 38.5,280.0 37.0,279.5" fill="#148f9b"/>
<polygon points="24.5,268.5 25.5,268.6 25.3,269.4" fill="#148f9b"/>
<polygon points="29.5,271.0 31.5,271.2 31.0,272.2" fill="#148f9b"/>
<polygon points="339.0,64.0 346.6,62.5 345.0,68.6 343.6,74.6 340.5,70.0" fill="#e0e7ef"/>
<polygon points="352.6,64.0 357.0,64.5 355.0,67.8" fill="#e0e7ef"/>
<polygon points="302.8,239.3 303.7,239.1 306.2,240.6 308.0,240.7 312.0,239.6 313.4,239.1 315.5,237.7 318.7,237.0 320.2,236.7 322.3,237.1 323.5,237.0 325.6,236.7 327.1,236.7 328.9,236.6 330.9,235.8 333.0,236.3 332.2,237.9 332.3,239.3 333.1,240.0 332.5,241.8 331.3,243.8 332.7,244.0 334.9,246.1 336.9,246.1 340.3,247.2 342.9,249.9 346.4,251.5 348.3,251.7 349.2,250.3 349.1,247.9 353.7,246.4 356.2,247.9 358.3,249.1 362.0,249.6 365.1,250.7 366.8,249.9 367.7,249.3 370.2,249.2 371.1,249.7 371.5,252.7 371.8,254.8 373.8,258.6 374.0,259.6 374.7,261.0 375.7,263.3 377.4,265.7 378.8,269.2 379.9,274.5 380.1,275.6 382.2,277.8 383.9,282.6 386.0,284.4 389.8,287.7 390.8,288.5 390.5,290.4 391.1,290.9 393.8,292.7 398.3,291.8 401.4,291.0 405.1,290.0 405.3,292.7 402.5,297.5 400.1,302.5 397.8,306.1 394.5,308.9 393.4,309.5 389.4,313.5 386.5,317.1 385.1,318.9 384.3,320.6 383.3,322.6 383.6,325.8 384.0,329.9 385.2,332.6 385.7,333.4 385.8,337.8 386.1,341.8 384.7,344.2 379.3,347.6 375.7,351.5 376.1,353.9 376.8,357.0 376.9,359.8 373.5,362.3 371.6,364.3 372.2,366.3 370.6,370.4 368.8,372.7 367.8,374.7 363.2,379.8 359.1,381.9 357.6,382.5 352.9,382.5 349.0,384.0 347.7,383.0 346.3,382.9 346.2,381.8 345.4,379.8 345.3,376.4 342.7,370.0 340.3,365.7 339.4,361.2 339.2,357.9 338.2,355.6 335.8,349.8 334.3,346.3 335.0,342.2 337.2,337.1 337.4,333.0 336.9,329.7 336.7,327.9 335.3,324.5 334.4,322.0 332.3,319.3 328.8,313.9 330.1,312.0 330.7,309.3 330.9,307.2 330.6,305.0 329.7,305.1 328.4,304.2 328.1,303.3 324.1,304.6 322.2,302.3 319.3,300.4 317.5,300.6 315.4,301.0 312.8,302.2 309.4,303.7 306.0,302.6 301.3,303.7 299.4,304.4 293.8,300.7 290.8,298.4 289.5,296.5 288.6,294.5 286.3,292.0 285.2,290.0 283.1,288.7 283.5,286.8 281.9,284.4 283.6,281.8 284.4,277.6 282.6,272.1 284.6,266.1 287.2,261.0 290.1,257.1 293.0,256.0 294.9,253.9 296.0,251.7 295.7,249.2 296.6,247.4 298.0,245.3 299.6,244.5 300.9,243.5 302.2,240.7" fill="#fdee5f"/>
<g clip-path="url(#cAF)">
<polygon points="310.7,232.0 310.7,241.8 311.2,247.6 307.1,250.4 302.6,253.1 299.0,256.2 298.1,258.0 294.0,257.6 290.8,259.4 280.0,259.0 280.0,232.0" fill="#148f9b" stroke="#fff" stroke-width="0.75" stroke-linejoin="round"/>
<polygon points="310.7,241.8 310.7,232.0 329.2,232.0 329.2,239.5 327.0,244.0 327.9,246.7 330.1,251.3 330.6,255.8 331.5,261.2 333.3,264.8 334.2,267.5 330.6,270.2 324.3,273.8 319.7,275.7 316.1,272.0 311.6,268.4 305.3,263.9 298.1,258.0 299.0,256.2 302.6,253.1 307.1,250.4 311.2,247.6" fill="#0aaeea" stroke="#fff" stroke-width="0.75" stroke-linejoin="round"/>
<polygon points="329.2,230.0 345.0,230.0 333.0,247.0 330.1,251.3 327.9,246.7 327.0,244.0 329.2,239.5" fill="#148f9b" stroke="#fff" stroke-width="0.75" stroke-linejoin="round"/>
<polygon points="330.1,251.3 333.0,247.0 340.0,235.0 357.8,235.0 357.8,270.7 355.4,276.7 348.2,273.1 341.6,269.5 339.8,268.3 333.7,266.4 331.5,261.2 330.6,255.8" fill="#148f9b" stroke="#fff" stroke-width="0.75" stroke-linejoin="round"/>
<polygon points="357.8,235.0 380.0,235.0 380.0,252.0 374.0,256.0 374.6,260.7 377.6,266.7 378.5,270.7 357.8,270.7" fill="#148f9b" stroke="#fff" stroke-width="0.75" stroke-linejoin="round"/>
<polygon points="357.8,270.7 378.5,270.7 381.0,270.0 386.0,279.0 382.5,279.6 379.8,280.8 378.6,285.7 377.3,290.5 376.1,295.3 374.3,298.9 374.9,302.5 376.1,304.9 374.5,306.5 371.0,307.0 368.0,306.8 365.0,305.5 362.7,305.6 360.0,300.5 356.5,296.5 353.0,291.7 355.4,288.7 356.0,282.7 355.4,276.7" fill="#0aaeea" stroke="#fff" stroke-width="0.75" stroke-linejoin="round"/>
<polygon points="341.6,269.5 348.2,273.1 355.4,276.7 356.0,282.7 355.4,288.7 353.0,291.7 350.6,294.8 345.8,297.2 341.6,299.0 339.8,296.0 340.4,291.1 339.2,287.5 338.6,285.1 339.8,282.7 341.0,279.1 341.6,274.3" fill="#ec1c24" stroke="#fff" stroke-width="0.75" stroke-linejoin="round"/>
<polygon points="379.8,280.8 382.5,279.6 386.0,279.0 392.0,288.0 394.0,292.5 390.6,293.5 390.0,295.9 393.6,298.3 397.8,299.5 396.0,300.7 391.8,302.5 388.2,304.9 385.8,306.1 382.2,306.7 378.6,306.1 376.1,304.9 374.9,302.5 374.3,298.9 376.1,295.3 377.3,290.5 378.6,285.7" fill="#f26a22" stroke="#fff" stroke-width="0.75" stroke-linejoin="round"/>
<polygon points="378.6,306.1 382.2,306.7 385.8,306.1 388.2,304.9 386.0,309.0 386.0,313.0 387.6,317.0 390.0,319.0 386.0,323.0 384.6,322.0 381.0,319.0 376.5,316.0 376.1,312.0 376.1,308.5" fill="#f26a22" stroke="#fff" stroke-width="0.75" stroke-linejoin="round"/>
<polygon points="368.5,307.5 372.0,307.0 375.5,308.0 376.1,312.0 375.0,314.5 371.0,314.6 368.0,314.5 367.7,311.0" fill="#ec1c24" stroke="#fff" stroke-width="0.75" stroke-linejoin="round"/>
<polygon points="347.3,305.1 356.9,304.6 362.7,305.6 365.0,305.5 367.6,307.8 368.6,311.0 367.6,315.2 366.5,319.5 366.0,324.8 365.4,330.1 366.5,333.3 367.0,336.5 363.3,335.4 360.1,334.4 356.9,332.2 355.9,329.0 352.7,328.0 350.5,326.9 346.3,325.9 341.0,324.8 336.7,324.8 335.0,323.5 338.0,322.0 342.0,320.0 344.0,316.0 344.5,311.0 345.5,307.5" fill="#f26a22" stroke="#fff" stroke-width="0.75" stroke-linejoin="round"/>
<polygon points="336.0,308.5 341.0,307.8 345.5,307.5 344.5,311.0 344.0,316.0 342.0,320.0 338.0,322.0 335.0,323.5 333.0,321.0 335.5,318.0 337.8,315.0 337.5,311.0" fill="#f26a22" stroke="#fff" stroke-width="0.75" stroke-linejoin="round"/>
<polygon points="330.0,310.0 334.0,309.9 337.5,311.0 337.8,315.0 335.5,318.0 333.0,321.0 329.0,318.0 328.0,313.0" fill="#0aaeea" stroke="#fff" stroke-width="0.75" stroke-linejoin="round"/>
<polygon points="333.0,324.8 336.7,324.8 341.0,324.8 346.3,325.9 350.5,326.9 352.7,328.0 355.9,329.0 356.9,332.2 360.1,334.4 363.3,335.4 367.0,336.5 370.0,336.0 373.0,335.5 377.0,335.0 381.0,334.0 386.5,333.5 395.0,333.0 395.0,390.0 330.0,390.0 330.0,324.8" fill="#0aaeea" stroke="#fff" stroke-width="0.75" stroke-linejoin="round"/>
<polygon points="361.0,349.0 364.0,346.0 368.0,345.4 371.5,347.0 372.0,351.0 371.0,355.0 369.0,358.0 365.0,358.2 362.0,356.0 360.7,352.0" fill="#f26a22" stroke="#fff" stroke-width="0.75" stroke-linejoin="round"/>
<polygon points="373.0,336.0 375.0,335.6 375.8,339.0 377.2,343.0 376.5,346.1 375.0,345.0 374.0,341.0 372.7,338.0" fill="#f26a22" stroke="#fff" stroke-width="0.75" stroke-linejoin="round"/>
<polygon points="362.5,372.5 364.5,372.0 365.5,374.5 363.5,376.3 362.0,375.0" fill="#e0e7ef" stroke="#fff" stroke-width="0.75" stroke-linejoin="round"/>
<polygon points="305.3,292.7 308.5,289.5 311.6,286.9 313.7,285.8 315.8,289.0 318.5,291.1 319.0,294.2 317.4,297.4 316.4,301.6 317.0,306.0 309.0,306.0 309.0,301.6 308.5,297.4 306.3,294.8" fill="#f26a22" stroke="#fff" stroke-width="0.75" stroke-linejoin="round"/>
<polygon points="283.5,282.5 287.0,281.8 290.0,283.5 292.0,287.0 290.5,290.5 286.0,290.2 284.5,288.5 280.0,288.0 280.0,282.0" fill="#f26a22" stroke="#fff" stroke-width="0.75" stroke-linejoin="round"/>
<polygon points="287.0,295.0 290.0,294.5 293.0,295.0 294.2,297.0 293.8,299.5 291.5,300.2 288.0,300.0" fill="#ec1c24" stroke="#fff" stroke-width="0.75" stroke-linejoin="round"/>
</g>
<polygon points="401.5,335.9 402.8,338.9 403.5,342.8 402.1,345.8 401.7,348.2 400.1,352.9 398.7,358.0 397.4,362.2 394.2,363.5 391.7,361.2 390.8,357.0 392.8,351.9 392.0,347.8 393.3,344.2 396.2,343.2 398.9,340.9 399.8,338.7 401.0,336.5" fill="#f26a22"/>
<g clip-path="url(#cEU)">
<polygon points="468.9,205.6 471.0,202.0 478.0,197.0 488.0,196.0 498.0,198.5 505.0,197.5 512.0,196.5 518.0,199.0 521.0,203.0 524.6,199.5 527.0,195.8 528.3,192.2 531.9,191.6 535.5,192.2 538.5,194.6 540.3,198.3 541.5,201.9 543.9,204.3 547.5,205.5 551.1,206.7 554.2,207.3 553.6,211.5 551.1,215.1 548.7,217.5 546.3,219.9 543.9,222.3 541.5,224.8 539.1,226.6 536.7,229.6 545.0,232.0 540.0,245.0 535.0,252.0 530.0,258.0 523.0,268.0 513.0,272.0 507.0,270.0 503.0,268.5 500.0,270.1 497.1,268.9 493.5,270.1 489.9,268.9 487.5,264.1 485.7,259.3 482.7,256.9 477.8,258.1 471.8,259.9 468.2,259.3 462.2,256.9 459.0,254.5 457.3,251.0 458.0,247.0 455.0,243.0 453.4,240.3 447.8,236.3 447.8,232.0 448.0,228.5 451.0,226.0 455.0,223.0 455.3,222.2 458.3,219.2 461.3,214.6 464.3,210.1" fill="#148f9b" stroke="#fff" stroke-width="0.75" stroke-linejoin="round"/>
<polygon points="423.5,268.0 424.5,262.8 423.7,258.8 422.9,254.7 425.3,254.7 428.5,253.9 430.9,252.3 432.5,249.9 434.9,248.3 437.3,246.7 438.9,244.3 439.7,241.1 440.5,237.9 441.4,235.5 443.0,237.1 446.0,235.0 447.8,236.3 453.4,240.3 456.6,243.5 459.0,245.1 458.0,249.0 457.3,251.0 459.0,254.5 462.2,256.9 468.2,259.3 471.8,259.9 477.8,258.1 482.7,256.9 485.7,259.3 487.5,264.1 489.9,268.9 493.5,270.1 495.0,273.0 493.0,277.0 491.0,281.0 492.0,287.0 492.5,292.0 493.5,300.0 488.0,300.0 484.0,290.0 470.0,290.0 456.0,305.0 440.0,300.0 432.0,275.0" fill="#0aaeea" stroke="#fff" stroke-width="0.75" stroke-linejoin="round"/>
<polygon points="422.5,241.9 424.5,239.9 427.7,237.9 430.9,236.7 434.1,235.9 437.3,235.0 440.1,234.2 441.4,235.5 440.5,237.9 439.7,241.1 438.9,244.3 437.3,246.7 434.9,248.3 432.5,249.9 430.9,252.3 428.5,253.9 425.3,254.7 422.9,253.9 422.1,250.7 422.1,247.5 422.1,244.3" fill="#fdee5f" stroke="#fff" stroke-width="0.75" stroke-linejoin="round"/>
<polygon points="439.5,228.6 437.4,229.1 435.8,230.4 435.1,232.9 434.7,236.0 437.4,235.8 439.2,235.0 441.3,235.8 443.1,236.5 446.7,236.5 447.2,232.9 445.1,230.6 442.2,230.1 439.7,229.4" fill="#9fb0c0" stroke="#fff" stroke-width="0.75" stroke-linejoin="round"/>
<polygon points="413.6,216.2 418.0,216.2 423.4,218.3 426.1,220.2 430.2,219.6 431.5,221.7 432.4,226.6 435.1,225.6 436.8,224.1 440.3,223.3 440.4,225.4 442.0,226.4 443.3,227.6 440.4,228.6 436.8,228.9 435.6,230.4 434.7,233.6 434.7,236.0 433.3,235.8 431.1,233.6 427.9,231.6 425.0,228.9 422.5,225.9 420.7,223.6 418.9,226.1 415.3,224.3 413.6,225.9" fill="#148f9b" stroke="#fff" stroke-width="0.75" stroke-linejoin="round"/>
<polygon points="440.3,223.3 444.9,222.0 448.5,221.7 453.0,222.0 456.9,222.0 456.9,224.1 453.0,226.6 448.5,228.6 445.1,230.6 442.2,230.1 439.7,229.4 440.4,228.6 443.3,227.6 442.0,226.4 440.4,225.4" fill="#148f9b" stroke="#fff" stroke-width="0.75" stroke-linejoin="round"/>
<polygon points="384.9,220.4 387.6,220.2 392.9,222.3 396.5,224.1 400.1,224.3 403.7,227.9 401.4,233.1 399.2,233.1 398.3,231.6 396.2,231.9 393.5,230.1 391.5,228.9 390.6,226.4 387.7,225.4" fill="#148f9b" stroke="#fff" stroke-width="0.75" stroke-linejoin="round"/>
<polygon points="377.4,238.9 378.8,237.2 381.3,236.8 384.9,236.2 389.0,235.8 387.2,237.9 387.2,239.8 386.7,242.6 382.7,244.9 379.1,247.4 377.4,246.5 377.5,245.1 378.2,242.1 377.6,242.0" fill="#148f9b" stroke="#fff" stroke-width="0.75" stroke-linejoin="round"/>
<polygon points="389.0,235.8 392.0,236.0 393.5,236.5 394.4,238.9 395.6,240.7 394.7,242.6 395.6,244.5 398.3,247.0 398.7,250.3 399.2,252.6 400.6,252.8 398.3,254.5 396.5,254.5 393.3,252.6 388.5,250.3 383.4,247.7 382.7,244.9 386.7,242.6 387.2,239.8 387.2,237.9" fill="#148f9b" stroke="#fff" stroke-width="0.75" stroke-linejoin="round"/>
<polygon points="371.1,249.7 374.5,249.8 375.7,253.7 375.0,255.9 374.6,257.5 372.7,255.6 371.5,252.7 371.1,251.5" fill="#148f9b" stroke="#fff" stroke-width="0.75" stroke-linejoin="round"/>
<polygon points="389.0,283.0 389.7,281.0 391.2,279.2 393.8,279.0 397.4,279.4 400.1,278.0 406.2,275.8 407.3,277.4 408.4,280.6 412.0,285.0 400.0,292.0 389.0,292.0" fill="#0aaeea" stroke="#fff" stroke-width="0.75" stroke-linejoin="round"/>
<polygon points="488.5,273.5 491.0,271.5 494.0,272.5 495.5,276.0 497.5,279.5 500.0,281.5 501.0,284.5 499.0,286.0 496.0,286.0 495.0,288.5 492.5,288.0 491.0,291.0 491.5,295.5 493.0,298.5 494.5,300.5 493.0,301.5 490.5,299.0 489.5,295.0 489.0,290.0 490.0,285.0 490.5,281.0 489.5,277.0" fill="#148f9b" stroke="#fff" stroke-width="0.75" stroke-linejoin="round"/>
<polygon points="493.5,270.5 497.0,269.0 499.5,270.5 500.0,273.5 502.5,276.0 504.5,279.0 505.5,282.5 503.5,284.0 501.0,284.5 500.0,281.5 497.5,279.5 495.5,276.0 494.0,272.5" fill="#0aaeea" stroke="#fff" stroke-width="0.75" stroke-linejoin="round"/>
<polygon points="496.0,286.0 499.0,286.0 501.0,284.5 503.5,284.0 505.8,285.5 505.5,289.0 503.0,291.5 500.0,291.8 497.5,290.0" fill="#0aaeea" stroke="#fff" stroke-width="0.75" stroke-linejoin="round"/>
<polygon points="499.5,270.5 503.0,268.5 507.0,267.0 510.0,270.0 510.0,285.0 507.0,295.0 501.0,299.0 500.0,292.0 503.0,291.5 505.5,289.0 505.8,285.5 503.5,284.0 505.5,282.5 504.5,279.0 502.5,276.0 500.0,273.5" fill="#148f9b" stroke="#fff" stroke-width="0.75" stroke-linejoin="round"/>
<polygon points="493.5,301.0 495.0,300.5 496.5,303.5 498.5,307.0 502.0,312.0 497.0,313.0 495.0,309.0 493.5,305.5 492.5,302.5" fill="#148f9b" stroke="#fff" stroke-width="0.75" stroke-linejoin="round"/>
<polygon points="536.7,229.6 539.1,226.6 541.5,224.8 543.9,222.3 546.0,223.0 545.1,226.0 541.5,229.0 540.3,232.0 538.5,233.0 536.0,231.0" fill="#148f9b" stroke="#fff" stroke-width="0.75" stroke-linejoin="round"/>
</g>
<g clip-path="url(#cSA)">
<polygon points="184.8,293.6 186.4,294.3 190.1,293.6 197.7,294.3 203.7,296.6 205.2,298.8 204.4,302.6 205.2,306.4 202.2,307.9 199.2,309.4 196.1,311.6 193.9,310.1 192.4,306.4 190.1,301.1 187.1,296.6 184.0,290.0 200.0,288.0" fill="#0aaeea" stroke="#fff" stroke-width="0.75" stroke-linejoin="round"/>
<polygon points="205.2,298.8 208.2,301.1 211.2,302.6 214.2,304.1 217.2,304.8 218.0,300.0 216.9,308.6 214.2,310.1 211.2,310.9 207.4,310.1 205.9,307.9 205.2,304.1" fill="#0aaeea" stroke="#fff" stroke-width="0.75" stroke-linejoin="round"/>
<polygon points="217.2,304.8 218.7,305.6 221.0,308.6 219.0,309.5 217.0,308.6 218.0,300.0" fill="#e0e7ef" stroke="#fff" stroke-width="0.75" stroke-linejoin="round"/>
<polygon points="188.6,333.6 195.8,333.0 198.3,337.2 203.1,339.6 206.7,343.3 209.1,346.9 210.3,352.9 206.7,352.9 203.1,354.1 201.3,357.1 199.5,358.9 194.6,358.3 192.2,358.9 191.0,354.1 190.4,348.1 189.8,342.0 189.8,337.2" fill="#0aaeea" stroke="#fff" stroke-width="0.75" stroke-linejoin="round"/>
<polygon points="201.9,353.5 206.7,352.3 210.3,354.1 211.5,357.7 215.1,361.3 216.3,364.9 215.1,368.6 210.9,369.2 209.1,366.1 206.7,362.5 203.1,358.9 201.9,356.5" fill="#0aaeea" stroke="#fff" stroke-width="0.75" stroke-linejoin="round"/>
<polygon points="186.0,349.0 190.0,350.5 191.6,359.6 190.1,365.6 189.4,371.6 188.6,379.2 187.9,385.2 187.1,391.2 187.1,397.2 186.4,403.3 186.4,409.3 185.6,415.0 185.5,422.0 187.0,430.0 190.0,434.0 191.0,442.0 175.0,442.0 175.0,349.0" fill="#22bac8" stroke="#fff" stroke-width="0.75" stroke-linejoin="round"/>
<polygon points="210.3,375.8 212.7,375.2 216.3,378.2 218.0,380.0 222.0,382.0 215.0,387.0 211.5,385.0 209.7,381.8 209.7,378.2" fill="#22bac8" stroke="#fff" stroke-width="0.75" stroke-linejoin="round"/>
</g>
<g clip-path="url(#cNA)">
<polygon points="100.0,247.8 104.8,247.8 113.1,249.3 120.6,249.3 125.1,250.8 128.9,253.8 131.9,255.3 134.9,258.3 137.2,261.4 138.7,262.9 145.0,262.0 160.0,270.0 185.0,285.0 185.0,305.0 100.0,305.0" fill="#148f9b" stroke="#fff" stroke-width="0.75" stroke-linejoin="round"/>
</g>
<polygon points="221.5,313.0 224.0,313.5 226.5,316.0 227.5,318.5 224.0,318.2 221.8,316.5" fill="#fff"/>
<polygon points="149.0,210.7 152.5,206.5 156.7,205.2 159.5,206.5 162.5,209.5 161.5,212.5 158.0,212.0 154.3,212.6 150.5,213.2" fill="#fff"/>
<polygon points="156.2,215.0 159.5,214.3 161.0,217.9 160.3,222.9 158.2,225.6 156.2,223.0 156.0,219.1" fill="#fff"/>
<polygon points="161.2,212.6 166.3,213.6 170.3,214.9 171.8,217.9 169.0,221.0 165.0,219.8 162.3,217.0" fill="#fff"/>
<polygon points="164.6,224.0 169.9,221.6 174.3,219.8 173.2,222.9 167.5,225.7" fill="#fff"/>
<polygon points="172.3,219.2 177.2,218.3 179.0,218.2 177.0,220.6 173.0,220.6" fill="#fff"/>
<polygon points="370.0,314.5 374.0,314.2 375.5,316.0 374.5,318.4 371.0,318.4 369.7,316.5" fill="#fff"/>
<polygon points="374.0,336.0 374.8,336.5 375.5,341.0 374.8,343.0 374.3,340.0" fill="#fff"/>
<polygon points="223.8,315.2 226.0,315.6 227.0,317.2 225.0,317.6 223.6,316.6" fill="#148f9b" stroke="#fff" stroke-width="0.75" stroke-linejoin="round"/>
<polygon points="484.2,304.2 487.4,305.3 490.5,308.4 493.7,312.1 497.4,315.3 500.5,318.5 502.7,321.6 501.6,324.2 499.0,323.2 496.3,320.6 493.7,317.4 490.5,313.2 487.4,309.0 484.7,305.8" fill="#0aaeea" stroke="#fff" stroke-width="0.75" stroke-linejoin="round"/>
<polygon points="503.2,326.4 507.4,327.4 511.6,328.5 515.8,329.5 517.9,330.0 515.8,330.6 510.6,329.5 506.3,328.5 503.2,327.4" fill="#0aaeea" stroke="#fff" stroke-width="0.75" stroke-linejoin="round"/>
<polygon points="509.0,312.1 511.6,311.1 514.8,309.5 517.9,308.4 520.6,306.9 522.1,303.7 523.2,302.6 525.3,304.8 524.3,307.9 523.7,311.1 522.7,315.3 520.6,318.5 519.0,320.6 515.8,320.0 512.7,319.5 510.6,317.4 509.5,315.3" fill="#0aaeea" stroke="#fff" stroke-width="0.75" stroke-linejoin="round"/>
<polygon points="511.6,310.5 514.8,309.0 517.9,307.9 520.6,305.8 521.6,302.6 523.2,301.8 525.3,303.7 524.3,305.3 522.1,306.3 520.0,308.4 516.9,310.0 513.7,311.6" fill="#148f9b" stroke="#fff" stroke-width="0.75" stroke-linejoin="round"/>
<polygon points="529.5,312.7 534.8,311.6 533.7,313.7 530.6,315.3 529.5,317.4 531.6,318.5 532.2,321.6 530.1,321.6 529.0,319.5 527.9,323.7 526.9,322.7 527.2,318.5 527.9,315.3 528.5,313.2" fill="#0aaeea" stroke="#fff" stroke-width="0.75" stroke-linejoin="round"/>
<polygon points="529.3,277.8 531.8,279.0 532.5,282.1 531.0,284.1 530.6,286.6 528.3,285.0 528.8,281.6" fill="#0aaeea" stroke="#fff" stroke-width="0.75" stroke-linejoin="round"/>
<polygon points="531.0,288.0 534.0,289.0 536.0,292.0 533.0,293.0 531.0,291.0" fill="#0aaeea" stroke="#fff" stroke-width="0.75" stroke-linejoin="round"/>
<polygon points="534.6,296.2 537.5,295.8 539.8,298.0 539.3,301.8 536.5,302.5 534.8,300.3 534.4,298.0" fill="#0aaeea" stroke="#fff" stroke-width="0.75" stroke-linejoin="round"/>
<polygon points="525.0,291.0 526.5,290.0 525.0,294.5 523.5,296.0" fill="#0aaeea" stroke="#fff" stroke-width="0.75" stroke-linejoin="round"/>
<polygon points="548.0,318.0 552.0,316.7 556.0,317.5 561.0,319.0 566.0,320.0 570.0,321.0 573.0,324.0 576.0,326.0 579.0,329.0 583.0,332.5 578.0,332.0 574.0,330.5 570.0,330.0 566.0,331.0 561.0,332.0 557.0,330.0 555.0,326.5 552.0,322.0 549.0,321.0" fill="#0aaeea" stroke="#fff" stroke-width="0.75" stroke-linejoin="round"/>
<polygon points="527.0,329.0 533.0,329.5 540.0,329.0 545.0,329.5 544.0,331.0 537.0,331.0 530.0,330.8" fill="#0aaeea" stroke="#fff" stroke-width="0.75" stroke-linejoin="round"/>
<polygon points="538.0,314.0 541.0,313.5 542.0,316.0 539.0,316.5" fill="#0aaeea" stroke="#fff" stroke-width="0.75" stroke-linejoin="round"/>
<polygon points="365.3,226.4 363.6,224.8 362.5,222.8 363.3,221.0 364.5,218.3 366.2,216.4 366.4,215.6 367.7,213.4 368.3,212.0 369.8,211.8 371.4,213.2 371.4,215.2 373.2,217.2 374.5,217.6 376.6,216.4 378.6,215.2 378.8,215.9 380.9,217.0 384.3,219.9 387.4,222.8 387.7,225.1 384.3,226.6 379.5,226.2 377.7,224.8 376.2,224.1 373.2,224.6 370.2,225.5 367.0,226.2" fill="#fff"/>
<polygon points="375.9,215.2 375.9,214.3 376.6,212.3 380.4,210.4 383.1,210.1 381.3,211.8 381.5,213.7 379.3,215.2 378.8,215.3" fill="#fff"/>
<polygon points="401.4,210.9 404.6,210.4 408.2,211.2 408.5,215.3 404.6,217.5 405.1,219.9 407.6,223.3 408.0,225.4 408.2,229.1 409.8,232.9 409.8,236.7 406.4,237.4 402.8,235.8 401.0,235.3 400.8,233.1 401.5,230.4 402.6,228.1 403.5,227.6 401.2,226.4 399.8,223.9 398.3,221.5 397.6,218.0 397.4,216.2 398.3,214.0 400.3,211.8" fill="#fff"/>
<polygon points="422.5,211.8 424.1,212.9 422.9,214.5 422.5,217.2 419.6,219.1 418.0,218.0 417.7,215.6 419.8,213.7" fill="#fff"/>
<polyline points="363.4,170.5 362.5,172.5 362.7,176.4 363.2,177.6 363.7,179.7 363.7,182.3 368.6,183.9 368.9,187.6 371.4,190.2 370.9,192.1 370.2,195.0 373.8,194.8 376.6,198.1 378.2,200.8 381.3,201.1 384.9,202.3 384.5,206.1 381.8,208.4 381.7,210.4" fill="none" stroke="#fff" stroke-width="0.75" stroke-linejoin="round" stroke-linecap="round"/>
<polyline points="356.9,176.2 362.2,177.6" fill="none" stroke="#fff" stroke-width="0.75" stroke-linejoin="round" stroke-linecap="round"/>
<polyline points="350.9,182.7 356.2,181.5 360.9,183.9 363.7,182.3" fill="none" stroke="#fff" stroke-width="0.75" stroke-linejoin="round" stroke-linecap="round"/>
<polyline points="360.9,183.9 359.6,186.6 358.9,188.9 355.3,189.7 354.1,188.2 353.7,185.9 351.2,185.2" fill="none" stroke="#fff" stroke-width="0.75" stroke-linejoin="round" stroke-linecap="round"/>
<polyline points="348.3,188.4 354.1,188.2" fill="none" stroke="#fff" stroke-width="0.75" stroke-linejoin="round" stroke-linecap="round"/>
<polyline points="355.3,189.7 356.0,192.4 354.8,195.0 355.5,197.1 356.4,200.8 353.7,204.6" fill="none" stroke="#fff" stroke-width="0.75" stroke-linejoin="round" stroke-linecap="round"/>
<polyline points="355.5,197.1 358.9,197.4 362.5,196.2 367.9,197.4 368.8,195.6 370.2,195.0" fill="none" stroke="#fff" stroke-width="0.75" stroke-linejoin="round" stroke-linecap="round"/>
<polyline points="338.7,189.9 339.4,193.4 340.1,199.0 342.8,201.1 345.5,201.1 347.2,203.2 349.9,203.8 352.6,203.8 353.7,204.6" fill="none" stroke="#fff" stroke-width="0.75" stroke-linejoin="round" stroke-linecap="round"/>
<polyline points="340.1,199.0 335.1,201.1 336.1,204.0 337.9,206.1 340.1,206.1 343.5,205.5 347.2,203.2" fill="none" stroke="#fff" stroke-width="0.75" stroke-linejoin="round" stroke-linecap="round"/>
<polyline points="344.0,207.8 346.7,208.4 349.6,207.0 352.8,206.4 353.7,204.6" fill="none" stroke="#fff" stroke-width="0.75" stroke-linejoin="round" stroke-linecap="round"/>
<polyline points="343.5,205.5 344.0,207.8 342.1,210.9" fill="none" stroke="#fff" stroke-width="0.75" stroke-linejoin="round" stroke-linecap="round"/>
<polyline points="337.9,206.1 336.5,209.0 332.0,209.2 330.4,209.0 326.8,209.0 324.1,212.3" fill="none" stroke="#fff" stroke-width="0.75" stroke-linejoin="round" stroke-linecap="round"/>
<polyline points="330.4,209.0 332.0,210.9 335.1,210.9 337.8,211.8 342.1,210.9" fill="none" stroke="#fff" stroke-width="0.75" stroke-linejoin="round" stroke-linecap="round"/>
<polyline points="325.4,212.3 325.7,213.7 328.4,213.4 329.9,212.0 332.0,210.9" fill="none" stroke="#fff" stroke-width="0.75" stroke-linejoin="round" stroke-linecap="round"/>
<polyline points="325.4,212.3 325.2,215.9 326.6,218.6 326.6,219.4" fill="none" stroke="#fff" stroke-width="0.75" stroke-linejoin="round" stroke-linecap="round"/>
<polyline points="326.8,209.0 327.9,204.9 325.2,204.3 323.6,203.5 321.8,201.7 317.9,199.6 317.8,198.8" fill="none" stroke="#fff" stroke-width="0.75" stroke-linejoin="round" stroke-linecap="round"/>
<polyline points="319.3,197.9 322.2,197.6 324.0,199.7 324.7,203.5" fill="none" stroke="#fff" stroke-width="0.75" stroke-linejoin="round" stroke-linecap="round"/>
<polyline points="324.0,199.7 324.0,196.5 325.7,194.3 326.1,191.8" fill="none" stroke="#fff" stroke-width="0.75" stroke-linejoin="round" stroke-linecap="round"/>
<polyline points="328.6,186.9 330.9,186.9" fill="none" stroke="#fff" stroke-width="0.75" stroke-linejoin="round" stroke-linecap="round"/>
<polyline points="342.8,212.0 341.3,213.7 340.6,214.8 337.6,214.8" fill="none" stroke="#fff" stroke-width="0.75" stroke-linejoin="round" stroke-linecap="round"/>
<polyline points="337.8,211.8 337.6,214.3" fill="none" stroke="#fff" stroke-width="0.75" stroke-linejoin="round" stroke-linecap="round"/>
<polyline points="342.1,210.9 342.8,212.0 345.3,214.0 347.1,213.7 349.6,213.2 352.3,210.6 354.2,207.8 352.8,206.4" fill="none" stroke="#fff" stroke-width="0.75" stroke-linejoin="round" stroke-linecap="round"/>
<polyline points="354.2,207.8 357.8,208.0 360.9,207.1 363.4,210.4 363.7,212.3 363.7,214.8" fill="none" stroke="#fff" stroke-width="0.75" stroke-linejoin="round" stroke-linecap="round"/>
<polyline points="360.9,207.1 363.0,206.4 365.5,209.0 367.0,211.8 363.7,214.8" fill="none" stroke="#fff" stroke-width="0.75" stroke-linejoin="round" stroke-linecap="round"/>
<polyline points="349.6,213.2 351.5,214.8 353.5,217.2 356.2,219.4 358.9,219.6 361.6,218.6 364.5,219.5" fill="none" stroke="#fff" stroke-width="0.75" stroke-linejoin="round" stroke-linecap="round"/>
<polyline points="353.5,217.2 353.9,218.3 354.2,221.0 353.3,223.3 354.1,225.9 357.1,225.6 360.0,224.8 362.5,224.1 363.4,224.1" fill="none" stroke="#fff" stroke-width="0.75" stroke-linejoin="round" stroke-linecap="round"/>
<polyline points="360.0,224.8 359.9,227.0" fill="none" stroke="#fff" stroke-width="0.75" stroke-linejoin="round" stroke-linecap="round"/>
<polyline points="354.1,225.9 350.8,226.6 350.3,227.6 349.0,230.1" fill="none" stroke="#fff" stroke-width="0.75" stroke-linejoin="round" stroke-linecap="round"/>
<polyline points="348.0,223.8 348.7,222.5 350.1,223.6 349.9,225.4 350.8,226.6" fill="none" stroke="#fff" stroke-width="0.75" stroke-linejoin="round" stroke-linecap="round"/>
<polyline points="350.1,223.6 353.3,223.3" fill="none" stroke="#fff" stroke-width="0.75" stroke-linejoin="round" stroke-linecap="round"/>
<polyline points="347.1,213.7 348.0,215.9 347.6,216.4 348.1,218.0 347.8,220.2 347.6,221.5 348.7,222.5" fill="none" stroke="#fff" stroke-width="0.75" stroke-linejoin="round" stroke-linecap="round"/>
<polyline points="348.0,215.9 343.7,215.6 341.9,215.9 342.2,218.0 344.2,220.2 345.1,221.6 346.4,222.5" fill="none" stroke="#fff" stroke-width="0.75" stroke-linejoin="round" stroke-linecap="round"/>
<polyline points="347.6,221.5 346.4,222.5 346.5,223.0" fill="none" stroke="#fff" stroke-width="0.75" stroke-linejoin="round" stroke-linecap="round"/>
<polyline points="298.5,224.3 301.0,224.1 300.8,226.6 299.8,229.9 300.7,231.9 300.5,233.6 299.9,236.0" fill="none" stroke="#fff" stroke-width="0.75" stroke-linejoin="round" stroke-linecap="round"/>
<polyline points="310.0,220.6 313.2,222.3 316.2,222.8 318.9,223.0" fill="none" stroke="#fff" stroke-width="0.75" stroke-linejoin="round" stroke-linecap="round"/>
<polyline points="333.6,171.8 335.6,164.5 334.7,156.4 338.6,147.6 341.0,140.6 345.5,133.2 349.0,130.6 350.1,127.7" fill="none" stroke="#fff" stroke-width="0.75" stroke-linejoin="round" stroke-linecap="round"/>
<polyline points="350.1,127.7 352.6,131.1 355.5,138.2 356.5,143.7" fill="none" stroke="#fff" stroke-width="0.75" stroke-linejoin="round" stroke-linecap="round"/>
<polyline points="350.1,127.7 352.6,126.4 355.3,129.0 359.3,128.0 361.6,123.1 364.8,123.1 365.7,125.3 367.9,124.2" fill="none" stroke="#fff" stroke-width="0.75" stroke-linejoin="round" stroke-linecap="round"/>
<polyline points="365.7,125.3 364.1,128.5 364.5,132.7 366.8,138.7 366.2,147.6 367.9,153.4 369.6,156.8 365.7,164.1 362.8,166.5" fill="none" stroke="#fff" stroke-width="0.75" stroke-linejoin="round" stroke-linecap="round"/>
<polyline points="363.4,226.6 365.3,226.4" fill="none" stroke="#fff" stroke-width="0.75" stroke-linejoin="round" stroke-linecap="round"/>
<polyline points="378.8,236.5 378.8,237.2" fill="none" stroke="#fff" stroke-width="0.75" stroke-linejoin="round" stroke-linecap="round"/>
<polyline points="387.7,225.4 390.6,226.4 391.5,228.9 393.5,230.1 392.8,230.6 392.4,231.9 392.9,234.3 393.5,236.0" fill="none" stroke="#fff" stroke-width="0.75" stroke-linejoin="round" stroke-linecap="round"/>
<polyline points="393.5,236.0 394.4,238.9" fill="none" stroke="#fff" stroke-width="0.75" stroke-linejoin="round" stroke-linecap="round"/>
<polyline points="398.3,231.6 399.2,233.1" fill="none" stroke="#fff" stroke-width="0.75" stroke-linejoin="round" stroke-linecap="round"/>
<polyline points="409.8,235.8 412.7,235.3 415.7,234.1 419.8,235.5 422.7,237.4 422.9,239.8" fill="none" stroke="#fff" stroke-width="0.75" stroke-linejoin="round" stroke-linecap="round"/>
<polyline points="422.9,239.8 422.2,242.6 421.8,244.7 423.8,249.7 422.3,253.0 423.4,254.8 425.7,258.7 426.5,260.8 423.6,262.9" fill="none" stroke="#fff" stroke-width="0.75" stroke-linejoin="round" stroke-linecap="round"/>
<polyline points="422.3,253.0 427.0,253.9 432.4,253.7 432.4,250.3 436.0,249.0 437.4,247.0 438.6,243.8 440.8,242.4 441.3,238.9 440.8,237.0 443.1,236.5 446.7,236.5" fill="none" stroke="#fff" stroke-width="0.75" stroke-linejoin="round" stroke-linecap="round"/>
<polyline points="383.4,247.7 379.5,249.2 377.7,252.6 375.9,254.0" fill="none" stroke="#fff" stroke-width="0.75" stroke-linejoin="round" stroke-linecap="round"/>
<polyline points="382.7,244.9 379.1,247.4" fill="none" stroke="#fff" stroke-width="0.75" stroke-linejoin="round" stroke-linecap="round"/>
<polyline points="396.5,254.5 398.3,254.5 399.9,255.9" fill="none" stroke="#fff" stroke-width="0.75" stroke-linejoin="round" stroke-linecap="round"/>
<polyline points="391.2,279.2 393.8,279.0 397.4,279.4 400.1,278.0 406.2,275.8 407.3,277.4 408.4,280.6" fill="none" stroke="#fff" stroke-width="0.75" stroke-linejoin="round" stroke-linecap="round"/>
<polyline points="406.2,275.8 412.1,268.4 413.2,265.5 414.1,264.8" fill="none" stroke="#fff" stroke-width="0.75" stroke-linejoin="round" stroke-linecap="round"/>
<polyline points="412.1,268.4 405.7,264.9" fill="none" stroke="#fff" stroke-width="0.75" stroke-linejoin="round" stroke-linecap="round"/>
<polyline points="413.2,265.5 413.7,262.1" fill="none" stroke="#fff" stroke-width="0.75" stroke-linejoin="round" stroke-linecap="round"/>
<polyline points="401.0,212.0 396.9,207.8 396.9,203.5 400.1,200.5 403.7,197.4 410.9,198.1 418.0,199.6 420.7,199.0 422.5,194.3 423.4,189.5 429.7,188.6 436.0,186.2 441.3,188.6 444.9,191.2 449.4,189.5 456.6,199.0 461.9,199.6 467.3,203.5 469.6,204.6" fill="none" stroke="#fff" stroke-width="0.75" stroke-linejoin="round" stroke-linecap="round"/>
<polyline points="408.2,216.2 413.6,216.2 413.6,225.9 415.3,224.3 418.9,226.1 420.7,223.6 422.5,225.9 425.0,228.9 427.9,231.6 431.1,233.6 433.3,236.0 434.7,235.8" fill="none" stroke="#fff" stroke-width="0.75" stroke-linejoin="round" stroke-linecap="round"/>
<polyline points="413.6,225.9 410.0,227.9" fill="none" stroke="#fff" stroke-width="0.75" stroke-linejoin="round" stroke-linecap="round"/>
<polyline points="413.6,216.2 418.0,216.2 423.4,218.3 426.1,220.2 430.2,219.6 431.5,221.7 432.4,226.6 435.1,225.6 436.8,224.1 440.3,223.3 444.9,222.0 448.5,221.7 453.0,222.0 456.9,222.0" fill="none" stroke="#fff" stroke-width="0.75" stroke-linejoin="round" stroke-linecap="round"/>
<polyline points="148.0,284.7 148.2,283.3 151.2,281.6 150.1,279.3 150.2,278.2 153.4,278.2 155.0,276.8" fill="none" stroke="#fff" stroke-width="0.75" stroke-linejoin="round" stroke-linecap="round"/>
<polyline points="153.4,278.2 153.4,282.0 155.1,282.4" fill="none" stroke="#fff" stroke-width="0.75" stroke-linejoin="round" stroke-linecap="round"/>
<polyline points="155.1,282.4 153.1,284.9 151.7,286.2" fill="none" stroke="#fff" stroke-width="0.75" stroke-linejoin="round" stroke-linecap="round"/>
<polyline points="153.1,284.9 154.6,285.8 155.9,286.9" fill="none" stroke="#fff" stroke-width="0.75" stroke-linejoin="round" stroke-linecap="round"/>
<polyline points="156.8,287.7 158.7,286.1 160.9,284.2 164.1,283.8" fill="none" stroke="#fff" stroke-width="0.75" stroke-linejoin="round" stroke-linecap="round"/>
<polyline points="159.6,291.4 162.7,291.2 163.2,291.8" fill="none" stroke="#fff" stroke-width="0.75" stroke-linejoin="round" stroke-linecap="round"/>
<polyline points="164.6,297.4 165.2,294.3" fill="none" stroke="#fff" stroke-width="0.75" stroke-linejoin="round" stroke-linecap="round"/>
<polyline points="173.6,299.0 174.5,296.1" fill="none" stroke="#fff" stroke-width="0.75" stroke-linejoin="round" stroke-linecap="round"/>
<polyline points="184.2,277.8 184.7,273.9" fill="none" stroke="#fff" stroke-width="0.75" stroke-linejoin="round" stroke-linecap="round"/>
<polyline points="61.4,123.8 61.4,167.2" fill="none" stroke="#fff" stroke-width="0.75" stroke-linejoin="round" stroke-linecap="round"/>
<polyline points="92.2,205.3 143.4,204.6 145.8,206.4 150.7,207.7" fill="none" stroke="#fff" stroke-width="0.75" stroke-linejoin="round" stroke-linecap="round"/>
<polyline points="179.3,216.2 185.1,216.2 186.3,215.3 187.8,212.3 189.2,209.5 191.7,210.4 191.7,214.5 193.0,215.9" fill="none" stroke="#fff" stroke-width="0.75" stroke-linejoin="round" stroke-linecap="round"/>
<polyline points="469.5,204.3 473.1,201.9 477.9,200.7 482.7,201.3 487.5,200.1 489.3,197.0 492.3,196.4 495.4,198.3 497.2,200.7 500.8,200.7 505.6,202.5 510.4,204.3 514.0,204.3 517.7,203.1 520.7,202.5 520.1,205.5 521.3,207.9 524.9,209.1 525.5,210.9 522.5,212.1 518.9,213.9 515.2,216.3 512.8,218.7 509.2,221.1 505.6,223.6 500.8,225.4 494.8,224.8 488.7,222.3 483.9,219.9 479.1,217.5 475.5,213.9 474.3,210.3 470.7,206.7 469.5,204.3" fill="none" stroke="#fff" stroke-width="0.75" stroke-linejoin="round" stroke-linecap="round"/>
<polyline points="410.0,234.6 414.8,233.8 418.8,235.5 422.1,238.7 422.5,241.9" fill="none" stroke="#fff" stroke-width="0.75" stroke-linejoin="round" stroke-linecap="round"/>
<polyline points="422.9,225.8 426.9,229.0 430.9,232.2 434.1,234.6" fill="none" stroke="#fff" stroke-width="0.75" stroke-linejoin="round" stroke-linecap="round"/>
<polyline points="421.5,247.5 422.0,252.0 424.0,256.0 424.5,260.0 423.5,263.0" fill="none" stroke="#fff" stroke-width="0.75" stroke-linejoin="round" stroke-linecap="round"/>
<polyline points="440.0,237.5 444.0,238.0 447.0,239.5" fill="none" stroke="#fff" stroke-width="0.75" stroke-linejoin="round" stroke-linecap="round"/>
<polyline points="445.4,238.7 446.2,243.5 447.0,247.5 446.2,251.5 444.6,255.5 440.5,258.0 438.1,261.2 437.3,265.0" fill="none" stroke="#fff" stroke-width="0.75" stroke-linejoin="round" stroke-linecap="round"/>
<polyline points="457.3,251.0 459.0,254.5 462.2,256.9 465.0,259.0 469.0,260.5 472.0,261.0" fill="none" stroke="#fff" stroke-width="0.75" stroke-linejoin="round" stroke-linecap="round"/>
<polyline points="471.8,259.9 473.0,262.0 477.0,263.0 479.0,265.0 479.5,268.0 477.8,270.7" fill="none" stroke="#fff" stroke-width="0.75" stroke-linejoin="round" stroke-linecap="round"/>
<polyline points="477.8,258.1 477.0,261.0 479.0,262.0 482.0,262.0 483.5,265.0 482.5,268.0 480.8,271.3" fill="none" stroke="#fff" stroke-width="0.75" stroke-linejoin="round" stroke-linecap="round"/>
<polyline points="566.3,320.0 566.3,331.0" fill="none" stroke="#fff" stroke-width="0.75" stroke-linejoin="round" stroke-linecap="round"/>
<polyline points="170.6,314.5 174.8,313.1 179.1,315.2 182.6,318.1" fill="none" stroke="#fff" stroke-width="0.75" stroke-linejoin="round" stroke-linecap="round"/>
<polyline points="170.6,323.0 174.8,318.8 178.4,316.6 182.6,318.1" fill="none" stroke="#fff" stroke-width="0.75" stroke-linejoin="round" stroke-linecap="round"/>
<polyline points="193.8,312.4 190.3,313.1 188.2,317.3 186.1,321.6 183.3,324.4 181.9,327.2 184.7,331.4 187.5,334.2 190.0,335.0" fill="none" stroke="#fff" stroke-width="0.75" stroke-linejoin="round" stroke-linecap="round"/>
<polyline points="215.1,368.6 216.5,371.0 214.0,373.5 212.7,375.2" fill="none" stroke="#fff" stroke-width="0.75" stroke-linejoin="round" stroke-linecap="round"/>
<polyline points="196.1,311.6 200.0,312.0 205.2,310.0 211.2,310.9 214.2,310.1 217.0,308.6" fill="none" stroke="#fff" stroke-width="0.75" stroke-linejoin="round" stroke-linecap="round"/>
<polyline points="209.7,380.0 212.0,376.0 214.0,372.0 216.5,368.0" fill="none" stroke="#fff" stroke-width="0.75" stroke-linejoin="round" stroke-linecap="round"/>
<polyline points="298.1,258.0 298.0,262.0 290.5,262.0 290.5,270.0 289.0,270.5 288.5,272.0 286.0,272.0" fill="none" stroke="#fff" stroke-width="0.75" stroke-linejoin="round" stroke-linecap="round"/>
<polyline points="298.1,258.0 305.3,263.9 306.0,270.0 307.0,276.0 302.0,278.0 299.0,281.0 292.0,281.0 290.0,283.5" fill="none" stroke="#fff" stroke-width="0.75" stroke-linejoin="round" stroke-linecap="round"/>
<polyline points="307.0,276.0 311.6,278.0 316.0,280.0 319.7,275.7" fill="none" stroke="#fff" stroke-width="0.75" stroke-linejoin="round" stroke-linecap="round"/>
<polyline points="319.7,275.7 320.5,282.0 319.0,287.0 318.5,291.1" fill="none" stroke="#fff" stroke-width="0.75" stroke-linejoin="round" stroke-linecap="round"/>
<polyline points="319.7,275.7 324.3,273.8 330.6,270.2 334.2,267.5 339.8,268.3" fill="none" stroke="#fff" stroke-width="0.75" stroke-linejoin="round" stroke-linecap="round"/>
<polyline points="320.5,287.0 325.0,288.0 330.0,288.0 334.0,287.0 338.6,285.1" fill="none" stroke="#fff" stroke-width="0.75" stroke-linejoin="round" stroke-linecap="round"/>
<polyline points="319.0,294.2 320.0,298.0 320.8,303.8" fill="none" stroke="#fff" stroke-width="0.75" stroke-linejoin="round" stroke-linecap="round"/>
<polyline points="334.0,287.0 335.0,292.0 333.0,297.0 331.5,301.0 330.6,306.9" fill="none" stroke="#fff" stroke-width="0.75" stroke-linejoin="round" stroke-linecap="round"/>
<polyline points="331.5,301.0 335.0,302.5 339.0,303.0 341.6,299.0" fill="none" stroke="#fff" stroke-width="0.75" stroke-linejoin="round" stroke-linecap="round"/>
<polyline points="339.0,303.0 341.0,307.0 341.0,307.8" fill="none" stroke="#fff" stroke-width="0.75" stroke-linejoin="round" stroke-linecap="round"/>
<polyline points="290.0,283.5 292.0,287.0 295.0,290.0 296.5,293.0 297.0,297.0 296.9,303.7" fill="none" stroke="#fff" stroke-width="0.75" stroke-linejoin="round" stroke-linecap="round"/>
<polyline points="299.0,281.0 300.0,286.0 302.0,290.0 305.3,292.7" fill="none" stroke="#fff" stroke-width="0.75" stroke-linejoin="round" stroke-linecap="round"/>
<polyline points="297.0,297.0 302.0,297.0 305.0,296.0 308.5,297.4" fill="none" stroke="#fff" stroke-width="0.75" stroke-linejoin="round" stroke-linecap="round"/>
<polyline points="305.0,296.0 306.0,300.0 306.3,304.2" fill="none" stroke="#fff" stroke-width="0.75" stroke-linejoin="round" stroke-linecap="round"/>
<polyline points="341.0,324.8 341.0,330.0 346.0,330.0 347.0,337.0 347.0,341.0 350.0,342.5" fill="none" stroke="#fff" stroke-width="0.75" stroke-linejoin="round" stroke-linecap="round"/>
<polyline points="336.5,346.0 343.0,346.5 350.0,346.5 353.0,345.0 355.0,344.0" fill="none" stroke="#fff" stroke-width="0.75" stroke-linejoin="round" stroke-linecap="round"/>
<polyline points="350.0,342.5 353.0,345.0 356.0,346.0 360.0,346.0" fill="none" stroke="#fff" stroke-width="0.75" stroke-linejoin="round" stroke-linecap="round"/>
<polyline points="350.0,346.5 350.5,355.0 350.5,362.5 355.0,360.0 358.0,356.0 361.0,354.5 362.0,356.0" fill="none" stroke="#fff" stroke-width="0.75" stroke-linejoin="round" stroke-linecap="round"/>
<polyline points="350.5,362.5 351.0,370.0 352.0,372.0 354.0,370.0 357.0,368.0 360.0,367.0 363.0,364.0 366.0,362.0 368.0,360.0 369.0,358.0" fill="none" stroke="#fff" stroke-width="0.75" stroke-linejoin="round" stroke-linecap="round"/>
<polyline points="369.0,358.0 372.0,361.0 373.0,364.0 372.0,367.0" fill="none" stroke="#fff" stroke-width="0.75" stroke-linejoin="round" stroke-linecap="round"/>
<polyline points="371.5,347.0 374.0,346.0 376.5,346.1" fill="none" stroke="#fff" stroke-width="0.75" stroke-linejoin="round" stroke-linecap="round"/>
<polyline points="377.2,343.0 381.0,341.0 384.5,338.0" fill="none" stroke="#fff" stroke-width="0.75" stroke-linejoin="round" stroke-linecap="round"/>
<polyline points="363.0,336.0 364.0,340.0 366.0,342.0 368.0,345.4" fill="none" stroke="#fff" stroke-width="0.75" stroke-linejoin="round" stroke-linecap="round"/>
<polyline points="356.0,346.0 358.0,343.0 360.0,340.0 363.0,336.0" fill="none" stroke="#fff" stroke-width="0.75" stroke-linejoin="round" stroke-linecap="round"/>
<polyline points="176.5,218.3 179,216.8 181.3,214.9 183.5,213 185.6,211.5" fill="none" stroke="#fff" stroke-width="1.1" stroke-linecap="round"/>
</svg>
<div class="legend"></div>
<div class="dot" style="left:24px;top:327.30px;background:#22bac8"></div>
<div class="lt" style="left:44.2px;top:324.50px">1-19</div>
<div class="dot" style="left:24px;top:345.80px;background:#148f9b"></div>
<div class="lt" style="left:44.2px;top:343.00px">20-99</div>
<div class="dot" style="left:24px;top:364.30px;background:#0aaeea"></div>
<div class="lt" style="left:44.2px;top:361.50px">100-299</div>
<div class="dot" style="left:24px;top:382.80px;background:#f26a22"></div>
<div class="lt" style="left:44.2px;top:380.00px">300-499</div>
<div class="dot" style="left:24px;top:401.30px;background:#fdee5f"></div>
<div class="lt" style="left:44.2px;top:398.50px">500-999</div>
<div class="dot" style="left:24px;top:419.80px;background:#ec1c24"></div>
<div class="lt" style="left:44.2px;top:417.00px">-1000</div>
<div class="dot" style="left:24px;top:438.30px;background:#dde5ea"></div>
<div class="lt" style="left:44.2px;top:435.50px">No disponible</div>
<div class="dot" style="left:24px;top:456.80px;background:#9aacbf"></div>
<div class="lt" style="left:44.2px;top:454.00px">Inaplicable</div>
<div class="credit">Gráfico: Daniel Rey</div>
</body></html>
